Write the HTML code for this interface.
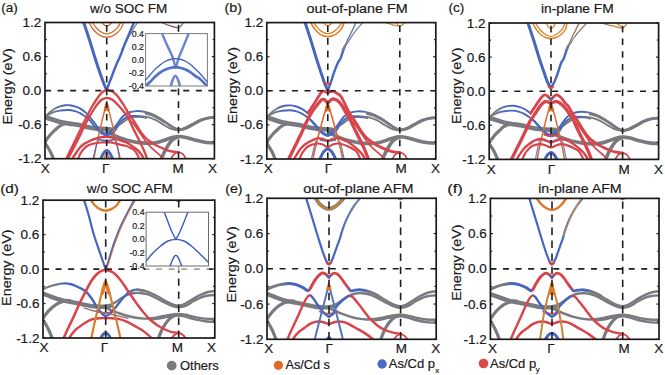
<!DOCTYPE html>
<html><head><meta charset="utf-8"><style>
html,body{margin:0;padding:0;background:#fff;overflow:hidden;width:665px;height:375px;}
svg{display:block;}
text{font-family:"Liberation Sans",sans-serif;fill:#1a1a1a;stroke:#1a1a1a;stroke-width:0.2px;}
.tl{font-size:13.5px;}
.tt{font-size:13.5px;}
.yl{font-size:13.5px;}
.il{font-size:8.8px;}
.lg{font-size:12.4px;}
</style></head><body>
<svg width="665" height="375" viewBox="0 0 665 375">
<rect width="665" height="375" fill="#fff"/>
<clipPath id="cpa"><rect x="45.00" y="22.50" width="169.40" height="136.20"/></clipPath>
<defs><linearGradient id="g1" gradientUnits="userSpaceOnUse" x1="52.00" y1="0" x2="146.00" y2="0"><stop offset="0.0000" stop-color="#797a7f"/><stop offset="0.1064" stop-color="#4767bd"/><stop offset="0.8936" stop-color="#4767bd"/><stop offset="1.0000" stop-color="#797a7f"/></linearGradient><linearGradient id="g2" gradientUnits="userSpaceOnUse" x1="52.00" y1="0" x2="150.00" y2="0"><stop offset="0.0000" stop-color="#797a7f"/><stop offset="0.1020" stop-color="#4767bd"/><stop offset="0.8776" stop-color="#4767bd"/><stop offset="1.0000" stop-color="#797a7f"/></linearGradient></defs>
<g clip-path="url(#cpa)" fill="none" stroke-linecap="round" stroke-linejoin="round">
<path d="M43.00,116.30C44.17,116.72 47.70,118.02 50.00,118.80C52.30,119.58 54.63,120.37 56.80,121.00C58.97,121.63 60.87,122.17 63.00,122.60C65.13,123.03 67.10,123.23 69.60,123.60C72.10,123.97 74.93,124.18 78.00,124.80C81.07,125.42 84.83,126.67 88.00,127.30C91.17,127.93 93.88,128.28 97.00,128.60C100.12,128.92 104.53,129.10 106.70,129.20C108.87,129.30 109.45,129.20 110.00,129.20" stroke="#797a7f" stroke-width="4.6"/>
<path d="M106.70,129.40C107.58,129.30 110.45,129.20 112.00,128.80C113.55,128.40 114.50,127.88 116.00,127.00C117.50,126.12 119.17,124.77 121.00,123.50C122.83,122.23 125.17,120.48 127.00,119.40C128.83,118.32 129.88,117.47 132.00,117.00C134.12,116.53 137.37,116.47 139.70,116.60C142.03,116.73 144.95,117.60 146.00,117.80" stroke="#797a7f" stroke-width="2.2"/>
<path d="M106.70,130.20C107.25,130.67 108.62,132.05 110.00,133.00C111.38,133.95 113.17,135.02 115.00,135.90C116.83,136.78 119.00,137.58 121.00,138.30C123.00,139.02 124.67,139.60 127.00,140.20C129.33,140.80 132.50,141.45 135.00,141.90C137.50,142.35 139.50,142.68 142.00,142.90C144.50,143.12 147.33,143.32 150.00,143.20C152.67,143.08 155.33,142.78 158.00,142.20C160.67,141.62 163.67,140.47 166.00,139.70C168.33,138.93 169.92,138.13 172.00,137.60C174.08,137.07 176.17,136.53 178.50,136.50C180.83,136.47 183.25,136.82 186.00,137.40C188.75,137.98 191.83,139.20 195.00,140.00C198.17,140.80 201.50,141.73 205.00,142.20C208.50,142.67 214.17,142.70 216.00,142.80" stroke="#797a7f" stroke-width="3.6"/>
<path d="M146.00,113.40C147.00,113.67 149.67,114.07 152.00,115.00C154.33,115.93 157.33,117.47 160.00,119.00C162.67,120.53 165.67,122.67 168.00,124.20C170.33,125.73 172.25,127.27 174.00,128.20C175.75,129.13 176.83,129.70 178.50,129.80C180.17,129.90 181.75,129.65 184.00,128.80C186.25,127.95 189.33,126.10 192.00,124.70C194.67,123.30 197.33,121.52 200.00,120.40C202.67,119.28 205.33,118.50 208.00,118.00C210.67,117.50 214.67,117.50 216.00,117.40" stroke="#797a7f" stroke-width="2.6"/>
<path d="M43.00,143.50C43.67,142.75 45.67,140.58 47.00,139.00C48.33,137.42 49.65,135.50 51.00,134.00C52.35,132.50 53.60,131.37 55.10,130.00C56.60,128.63 58.30,126.83 60.00,125.80C61.70,124.77 63.63,124.17 65.30,123.80C66.97,123.43 69.22,123.63 70.00,123.60" stroke="#797a7f" stroke-width="3.2"/>
<path d="M43.00,140.50C43.67,141.42 45.75,144.08 47.00,146.00C48.25,147.92 49.33,149.67 50.50,152.00C51.67,154.33 53.42,158.67 54.00,160.00" stroke="#797a7f" stroke-width="3.2"/>
<path d="M160.50,161.00C160.92,160.00 162.08,157.00 163.00,155.00C163.92,153.00 165.00,150.83 166.00,149.00C167.00,147.17 168.00,145.45 169.00,144.00C170.00,142.55 171.00,141.27 172.00,140.30C173.00,139.33 173.92,138.78 175.00,138.20C176.08,137.62 177.92,137.03 178.50,136.80" stroke="#797a7f" stroke-width="3.6"/>
<path d="M45.70,116.30C46.42,115.88 48.45,114.58 50.00,113.80C51.55,113.02 53.33,112.13 55.00,111.60C56.67,111.07 57.85,110.87 60.00,110.60C62.15,110.33 65.40,109.90 67.90,110.00C70.40,110.10 72.98,110.67 75.00,111.20C77.02,111.73 78.05,112.13 80.00,113.20C81.95,114.27 85.03,116.37 86.70,117.60C88.37,118.83 88.78,119.28 90.00,120.60C91.22,121.92 92.60,123.85 94.00,125.50C95.40,127.15 97.07,129.15 98.40,130.50C99.73,131.85 100.62,132.72 102.00,133.60C103.38,134.48 105.20,135.80 106.70,135.80C108.20,135.80 109.58,134.50 111.00,133.60C112.42,132.70 113.70,132.25 115.20,130.40C116.70,128.55 118.22,124.63 120.00,122.50C121.78,120.37 123.90,118.68 125.90,117.60C127.90,116.52 129.57,116.20 132.00,116.00C134.43,115.80 137.83,116.20 140.50,116.40C143.17,116.60 145.42,116.57 148.00,117.20C150.58,117.83 153.33,118.90 156.00,120.20C158.67,121.50 161.50,123.57 164.00,125.00C166.50,126.43 168.58,127.92 171.00,128.80C173.42,129.68 176.17,130.23 178.50,130.30C180.83,130.37 182.58,130.05 185.00,129.20C187.42,128.35 190.33,126.60 193.00,125.20C195.67,123.80 198.33,121.95 201.00,120.80C203.67,119.65 206.50,118.82 209.00,118.30C211.50,117.78 214.83,117.80 216.00,117.70" stroke="url(#g1)" stroke-width="1.9"/>
<path d="M99.00,139.60C99.67,139.73 101.72,140.23 103.00,140.40C104.28,140.57 105.47,140.60 106.70,140.60C107.93,140.60 109.12,140.57 110.40,140.40C111.68,140.23 113.73,139.73 114.40,139.60" stroke="#4767bd" stroke-width="1.6"/>
<path d="M129.00,119.20C129.82,120.05 132.07,122.00 133.90,124.30C135.73,126.60 137.92,130.02 140.00,133.00C142.08,135.98 144.57,139.82 146.40,142.20C148.23,144.58 149.40,145.70 151.00,147.30C152.60,148.90 154.50,150.47 156.00,151.80C157.50,153.13 158.67,153.85 160.00,155.30C161.33,156.75 163.33,159.63 164.00,160.50" stroke="#d9434a" stroke-width="1.7"/>
<path d="M170.00,161.00C170.50,160.08 172.00,156.83 173.00,155.50C174.00,154.17 175.08,153.55 176.00,153.00C176.92,152.45 177.67,152.20 178.50,152.20C179.33,152.20 180.08,152.45 181.00,153.00C181.92,153.55 183.00,154.17 184.00,155.50C185.00,156.83 186.50,160.08 187.00,161.00" stroke="#d9434a" stroke-width="1.7"/>
<path d="M45.70,116.30C46.42,115.58 48.45,113.30 50.00,112.00C51.55,110.70 53.33,109.45 55.00,108.50C56.67,107.55 58.33,106.83 60.00,106.30C61.67,105.77 63.40,105.48 65.00,105.30C66.60,105.12 67.93,105.03 69.60,105.20C71.27,105.37 73.27,105.77 75.00,106.30C76.73,106.83 78.33,107.45 80.00,108.40C81.67,109.35 83.67,110.90 85.00,112.00C86.33,113.10 86.83,113.70 88.00,115.00C89.17,116.30 90.83,118.38 92.00,119.80C93.17,121.22 93.93,122.08 95.00,123.50C96.07,124.92 97.23,126.92 98.40,128.30C99.57,129.68 100.62,130.82 102.00,131.80C103.38,132.78 105.37,134.07 106.70,134.20C108.03,134.33 108.95,133.42 110.00,132.60C111.05,131.78 111.83,130.73 113.00,129.30C114.17,127.87 115.38,126.13 117.00,124.00C118.62,121.87 120.70,118.42 122.70,116.50C124.70,114.58 126.70,113.40 129.00,112.50C131.30,111.60 134.00,111.23 136.50,111.10C139.00,110.97 141.42,111.22 144.00,111.70C146.58,112.18 149.33,112.92 152.00,114.00C154.67,115.08 157.33,116.60 160.00,118.20C162.67,119.80 165.67,122.03 168.00,123.60C170.33,125.17 172.25,126.67 174.00,127.60C175.75,128.53 176.83,129.10 178.50,129.20C180.17,129.30 181.75,129.03 184.00,128.20C186.25,127.37 189.33,125.57 192.00,124.20C194.67,122.83 197.33,121.10 200.00,120.00C202.67,118.90 205.33,118.10 208.00,117.60C210.67,117.10 214.67,117.10 216.00,117.00" stroke="url(#g2)" stroke-width="1.9"/>
<path d="M88.30,20.00C88.45,20.42 88.50,21.08 89.20,22.50C89.90,23.92 91.12,26.62 92.50,28.50C93.88,30.38 95.87,32.48 97.50,33.80C99.13,35.12 100.75,35.83 102.30,36.40C103.85,36.97 105.30,37.20 106.80,37.20C108.30,37.20 109.75,36.97 111.30,36.40C112.85,35.83 114.48,35.12 116.10,33.80C117.72,32.48 119.75,30.38 121.00,28.50C122.25,26.62 123.02,23.92 123.60,22.50C124.18,21.08 124.35,20.42 124.50,20.00" stroke="#d8692e" stroke-width="1.3"/>
<path d="M91.80,20.00C91.93,20.42 91.93,21.30 92.60,22.50C93.27,23.70 94.57,25.75 95.80,27.20C97.03,28.65 98.63,30.18 100.00,31.20C101.37,32.22 102.87,32.85 104.00,33.30C105.13,33.75 105.87,33.90 106.80,33.90C107.73,33.90 108.47,33.75 109.60,33.30C110.73,32.85 112.23,32.22 113.60,31.20C114.97,30.18 116.65,28.65 117.80,27.20C118.95,25.75 119.92,23.70 120.50,22.50C121.08,21.30 121.17,20.42 121.30,20.00" stroke="#d8692e" stroke-width="1.3"/>
<path d="M101.50,21.00C101.58,21.22 101.55,21.63 102.00,22.30C102.45,22.97 103.40,24.42 104.20,25.00C105.00,25.58 105.93,25.80 106.80,25.80C107.67,25.80 108.60,25.58 109.40,25.00C110.20,24.42 111.17,22.97 111.60,22.30C112.03,21.63 111.93,21.22 112.00,21.00" stroke="#d8692e" stroke-width="1.3"/>
<path d="M159.00,20.00C159.33,20.33 159.83,21.28 161.00,22.00C162.17,22.72 164.33,23.63 166.00,24.30C167.67,24.97 169.50,25.50 171.00,26.00C172.50,26.50 173.78,27.03 175.00,27.30C176.22,27.57 177.38,27.73 178.30,27.60C179.22,27.47 179.80,27.10 180.50,26.50C181.20,25.90 182.00,24.92 182.50,24.00C183.00,23.08 183.33,21.50 183.50,21.00" stroke="#8f7060" stroke-width="1.4"/>
<path d="M121.50,50.00C122.25,48.67 124.42,44.83 126.00,42.00C127.58,39.17 129.08,36.25 131.00,33.00C132.92,29.75 136.17,24.67 137.50,22.50C138.83,20.33 138.75,20.42 139.00,20.00" stroke="#6d7fae" stroke-width="1.2"/>
<path d="M93.60,161.00C93.95,158.97 94.97,152.63 95.70,148.80C96.43,144.97 97.30,141.13 98.00,138.00C98.70,134.87 99.15,133.17 99.90,130.00C100.65,126.83 101.68,122.33 102.50,119.00C103.32,115.67 104.10,112.67 104.80,110.00C105.50,107.33 106.38,104.17 106.70,103.00" stroke="#d8692e" stroke-width="1.4"/>
<path d="M106.70,103.00C107.02,104.17 107.88,107.33 108.60,110.00C109.32,112.67 110.17,115.67 111.00,119.00C111.83,122.33 112.82,126.67 113.60,130.00C114.38,133.33 115.00,135.87 115.70,139.00C116.40,142.13 117.12,145.13 117.80,148.80C118.48,152.47 119.47,158.97 119.80,161.00" stroke="#d8692e" stroke-width="1.4"/>
<path d="M105.20,110.00C105.45,109.00 106.20,104.00 106.70,104.00C107.20,104.00 107.95,109.00 108.20,110.00" stroke="#d8692e" stroke-width="3.0"/>
<path d="M92.60,161.00C92.88,159.67 93.65,155.67 94.30,153.00C94.95,150.33 95.75,147.27 96.50,145.00C97.25,142.73 98.42,140.33 98.80,139.40" stroke="#4767bd" stroke-width="1.0"/>
<path d="M114.60,139.40C114.98,140.33 116.15,142.73 116.90,145.00C117.65,147.27 118.45,150.33 119.10,153.00C119.75,155.67 120.52,159.67 120.80,161.00" stroke="#4767bd" stroke-width="1.0"/>
<path d="M71.00,161.00C71.83,159.67 74.50,155.25 76.00,153.00C77.50,150.75 78.67,149.00 80.00,147.50C81.33,146.00 82.67,144.95 84.00,144.00C85.33,143.05 86.67,142.50 88.00,141.80C89.33,141.10 90.58,140.38 92.00,139.80C93.42,139.22 95.00,138.72 96.50,138.30C98.00,137.88 99.30,137.53 101.00,137.30C102.70,137.07 105.03,136.90 106.70,136.90C108.37,136.90 109.62,137.02 111.00,137.30C112.38,137.58 113.50,138.12 115.00,138.60C116.50,139.08 118.00,139.52 120.00,140.20C122.00,140.88 125.00,141.73 127.00,142.70C129.00,143.67 130.28,144.78 132.00,146.00C133.72,147.22 135.80,148.67 137.30,150.00C138.80,151.33 139.72,152.17 141.00,154.00C142.28,155.83 144.33,159.83 145.00,161.00" stroke="#d9434a" stroke-width="2.4"/>
<path d="M77.00,161.00C77.67,159.58 79.67,154.73 81.00,152.50C82.33,150.27 83.83,148.78 85.00,147.60C86.17,146.42 86.83,146.00 88.00,145.40C89.17,144.80 90.58,144.40 92.00,144.00C93.42,143.60 95.00,143.25 96.50,143.00C98.00,142.75 99.30,142.62 101.00,142.50C102.70,142.38 105.03,142.32 106.70,142.30C108.37,142.28 109.62,142.22 111.00,142.40C112.38,142.58 113.50,143.03 115.00,143.40C116.50,143.77 118.00,144.13 120.00,144.60C122.00,145.07 125.33,145.67 127.00,146.20C128.67,146.73 128.85,147.17 130.00,147.80C131.15,148.43 132.73,148.97 133.90,150.00C135.07,151.03 135.98,152.17 137.00,154.00C138.02,155.83 139.50,159.83 140.00,161.00" stroke="#d9434a" stroke-width="2.2"/>
<path d="M99.30,162.00C99.55,161.50 100.18,160.33 100.80,159.00C101.42,157.67 102.02,155.40 103.00,154.00C103.98,152.60 105.47,150.60 106.70,150.60C107.93,150.60 109.42,152.60 110.40,154.00C111.38,155.40 111.98,157.67 112.60,159.00C113.22,160.33 113.85,161.50 114.10,162.00" stroke="#4767bd" stroke-width="3.0"/>
<path d="M103.00,162.00C103.28,161.08 104.08,157.97 104.70,156.50C105.32,155.03 106.03,153.20 106.70,153.20C107.37,153.20 108.08,155.03 108.70,156.50C109.32,157.97 110.12,161.08 110.40,162.00" stroke="#d8692e" stroke-width="1.3"/>
<path d="M82.50,19.50C82.70,20.00 82.53,19.08 83.70,22.50C84.87,25.92 87.58,34.00 89.50,40.00C91.42,46.00 93.45,53.00 95.20,58.50C96.95,64.00 98.53,68.75 100.00,73.00C101.47,77.25 102.88,81.17 104.00,84.00C105.12,86.83 106.25,89.00 106.70,90.00" stroke="#4767bd" stroke-width="3.0"/>
<path d="M106.70,90.00C107.00,89.17 107.78,86.92 108.50,85.00C109.22,83.08 110.08,80.92 111.00,78.50C111.92,76.08 113.00,73.08 114.00,70.50C115.00,67.92 116.07,65.17 117.00,63.00C117.93,60.83 118.70,59.58 119.60,57.50C120.50,55.42 121.50,52.83 122.40,50.50C123.30,48.17 124.07,45.83 125.00,43.50C125.93,41.17 127.00,38.83 128.00,36.50C129.00,34.17 130.00,31.83 131.00,29.50C132.00,27.17 133.28,24.17 134.00,22.50C134.72,20.83 135.08,20.00 135.30,19.50" stroke="#4767bd" stroke-width="2.4"/>
<path d="M65.20,161.00C66.08,159.17 68.75,153.58 70.50,150.00C72.25,146.42 73.92,143.17 75.70,139.50C77.48,135.83 79.35,131.83 81.20,128.00C83.05,124.17 85.03,120.00 86.80,116.50C88.57,113.00 90.18,109.83 91.80,107.00C93.42,104.17 95.05,101.67 96.50,99.50C97.95,97.33 99.25,95.42 100.50,94.00C101.75,92.58 102.92,91.67 104.00,91.00C105.08,90.33 106.00,90.07 107.00,90.00C108.00,89.93 108.98,90.27 110.00,90.60C111.02,90.93 111.93,91.18 113.10,92.00C114.27,92.82 115.85,94.25 117.00,95.50C118.15,96.75 118.83,97.83 120.00,99.50C121.17,101.17 122.67,103.37 124.00,105.50C125.33,107.63 126.67,110.17 128.00,112.30C129.33,114.43 130.70,116.35 132.00,118.30C133.30,120.25 134.47,121.88 135.80,124.00C137.13,126.12 138.38,128.70 140.00,131.00C141.62,133.30 143.63,135.93 145.50,137.80C147.37,139.67 149.45,140.97 151.20,142.20C152.95,143.43 154.40,144.32 156.00,145.20C157.60,146.08 159.13,146.73 160.80,147.50C162.47,148.27 164.13,149.13 166.00,149.80C167.87,150.47 169.92,151.10 172.00,151.50C174.08,151.90 177.42,152.08 178.50,152.20" stroke="#d9434a" stroke-width="2.3"/>
<path d="M67.00,161.00C67.92,159.17 70.67,153.58 72.50,150.00C74.33,146.42 76.17,143.17 78.00,139.50C79.83,135.83 81.67,131.67 83.50,128.00C85.33,124.33 87.28,120.58 89.00,117.50C90.72,114.42 92.30,111.83 93.80,109.50C95.30,107.17 96.63,105.17 98.00,103.50C99.37,101.83 100.55,100.45 102.00,99.50C103.45,98.55 105.03,97.80 106.70,97.80C108.37,97.80 109.95,98.13 112.00,99.50C114.05,100.87 116.68,103.52 119.00,106.00C121.32,108.48 124.23,112.20 125.90,114.40C127.57,116.60 127.98,117.28 129.00,119.20C130.02,121.12 130.83,123.43 132.00,125.90C133.17,128.37 134.57,131.12 136.00,134.00C137.43,136.88 139.27,140.45 140.60,143.20C141.93,145.95 142.77,147.53 144.00,150.50C145.23,153.47 147.33,159.25 148.00,161.00" stroke="#d9434a" stroke-width="2.3"/>
</g>
<line x1="45.00" y1="90.60" x2="214.40" y2="90.60" stroke="#1e1e1e" stroke-width="1.6" stroke-dasharray="6 6.57"/>
<line x1="106.70" y1="158.70" x2="106.70" y2="22.50" stroke="#1e1e1e" stroke-width="1.6" stroke-dasharray="6.6 6.1"/>
<line x1="178.50" y1="158.70" x2="178.50" y2="22.50" stroke="#1e1e1e" stroke-width="1.6" stroke-dasharray="6.6 6.1"/>
<line x1="45.00" y1="22.50" x2="47.60" y2="22.50" stroke="#222" stroke-width="1.2"/>
<line x1="214.40" y1="22.50" x2="211.80" y2="22.50" stroke="#222" stroke-width="1.2"/>
<line x1="45.00" y1="39.53" x2="46.80" y2="39.53" stroke="#222" stroke-width="1.2"/>
<line x1="214.40" y1="39.53" x2="212.60" y2="39.53" stroke="#222" stroke-width="1.2"/>
<line x1="45.00" y1="56.55" x2="47.60" y2="56.55" stroke="#222" stroke-width="1.2"/>
<line x1="214.40" y1="56.55" x2="211.80" y2="56.55" stroke="#222" stroke-width="1.2"/>
<line x1="45.00" y1="73.57" x2="46.80" y2="73.57" stroke="#222" stroke-width="1.2"/>
<line x1="214.40" y1="73.57" x2="212.60" y2="73.57" stroke="#222" stroke-width="1.2"/>
<line x1="45.00" y1="90.60" x2="47.60" y2="90.60" stroke="#222" stroke-width="1.2"/>
<line x1="214.40" y1="90.60" x2="211.80" y2="90.60" stroke="#222" stroke-width="1.2"/>
<line x1="45.00" y1="107.62" x2="46.80" y2="107.62" stroke="#222" stroke-width="1.2"/>
<line x1="214.40" y1="107.62" x2="212.60" y2="107.62" stroke="#222" stroke-width="1.2"/>
<line x1="45.00" y1="124.65" x2="47.60" y2="124.65" stroke="#222" stroke-width="1.2"/>
<line x1="214.40" y1="124.65" x2="211.80" y2="124.65" stroke="#222" stroke-width="1.2"/>
<line x1="45.00" y1="141.68" x2="46.80" y2="141.68" stroke="#222" stroke-width="1.2"/>
<line x1="214.40" y1="141.68" x2="212.60" y2="141.68" stroke="#222" stroke-width="1.2"/>
<line x1="45.00" y1="158.70" x2="47.60" y2="158.70" stroke="#222" stroke-width="1.2"/>
<line x1="214.40" y1="158.70" x2="211.80" y2="158.70" stroke="#222" stroke-width="1.2"/>
<rect x="45.00" y="22.50" width="169.40" height="136.20" fill="none" stroke="#1a1a1a" stroke-width="1.7"/>
<text x="41.40" y="27.05" text-anchor="end" class="tl">1.2</text>
<text x="41.40" y="61.10" text-anchor="end" class="tl">0.6</text>
<text x="41.40" y="95.15" text-anchor="end" class="tl">0.0</text>
<text x="41.40" y="129.20" text-anchor="end" class="tl">-0.6</text>
<text x="41.40" y="163.25" text-anchor="end" class="tl">-1.2</text>
<text x="45.20" y="172.80" text-anchor="middle" class="tl">X</text>
<text x="105.60" y="172.80" text-anchor="middle" class="tl">Γ</text>
<text x="178.00" y="172.80" text-anchor="middle" class="tl">M</text>
<text x="212.60" y="172.80" text-anchor="middle" class="tl">X</text>
<text transform="translate(12.30,86.35) rotate(-90)" text-anchor="middle" class="yl" textLength="76.5" lengthAdjust="spacingAndGlyphs">Energy (eV)</text>
<text x="89.90" y="12.90" class="tt" textLength="77.50" lengthAdjust="spacingAndGlyphs">w/o SOC FM</text>
<text x="1.20" y="12.30" class="tt" textLength="16.50" lengthAdjust="spacingAndGlyphs">(a)</text>
<clipPath id="cpb"><rect x="266.80" y="22.60" width="169.00" height="136.40"/></clipPath>
<defs><linearGradient id="g3" gradientUnits="userSpaceOnUse" x1="273.72" y1="0" x2="367.21" y2="0"><stop offset="0.0000" stop-color="#797a7f"/><stop offset="0.1058" stop-color="#4767bd"/><stop offset="0.8927" stop-color="#4767bd"/><stop offset="1.0000" stop-color="#797a7f"/></linearGradient><linearGradient id="g4" gradientUnits="userSpaceOnUse" x1="273.72" y1="0" x2="283.61" y2="0"><stop offset="0.0000" stop-color="#797a7f"/><stop offset="1.0000" stop-color="#4767bd"/></linearGradient><linearGradient id="g5" gradientUnits="userSpaceOnUse" x1="359.19" y1="0" x2="371.22" y2="0"><stop offset="0.0000" stop-color="#4767bd"/><stop offset="1.0000" stop-color="#797a7f"/></linearGradient></defs>
<g clip-path="url(#cpb)" fill="none" stroke-linecap="round" stroke-linejoin="round">
<path d="M264.82,116.54C265.98,116.96 269.47,118.26 271.74,119.04C274.02,119.83 276.32,120.61 278.47,121.24C280.61,121.88 282.49,122.41 284.60,122.85C286.70,123.28 288.65,123.48 291.12,123.85C293.59,124.22 296.39,124.43 299.43,125.05C302.46,125.67 306.18,126.92 309.31,127.55C312.44,128.19 315.13,128.54 318.21,128.86C321.29,129.17 325.65,129.36 327.80,129.46C329.95,129.56 330.56,129.46 331.11,129.46" stroke="#797a7f" stroke-width="4.6"/>
<path d="M327.80,129.66C328.69,129.56 331.56,129.46 333.11,129.06C334.67,128.66 335.62,128.14 337.13,127.25C338.63,126.37 340.30,125.02 342.14,123.75C343.98,122.48 346.32,120.73 348.16,119.64C349.99,118.56 351.05,117.71 353.17,117.24C355.29,116.77 358.55,116.70 360.89,116.84C363.23,116.97 366.16,117.84 367.21,118.04" stroke="#797a7f" stroke-width="2.2"/>
<path d="M327.80,130.46C328.35,130.93 329.72,132.31 331.11,133.26C332.50,134.21 334.28,135.28 336.12,136.17C337.96,137.05 340.13,137.85 342.14,138.57C344.15,139.29 345.82,139.87 348.16,140.47C350.50,141.07 353.67,141.72 356.18,142.18C358.69,142.63 360.69,142.96 363.20,143.18C365.71,143.39 368.55,143.59 371.22,143.48C373.89,143.36 376.57,143.06 379.24,142.48C381.92,141.89 384.93,140.74 387.27,139.97C389.61,139.20 391.19,138.40 393.28,137.87C395.37,137.33 397.46,136.80 399.80,136.77C402.14,136.73 404.56,137.08 407.32,137.67C410.08,138.25 413.17,139.47 416.35,140.27C419.52,141.07 422.86,142.01 426.37,142.48C429.88,142.94 435.57,142.98 437.40,143.08" stroke="#797a7f" stroke-width="3.6"/>
<path d="M367.21,113.63C368.21,113.90 370.89,114.30 373.23,115.24C375.57,116.17 378.57,117.71 381.25,119.24C383.92,120.78 386.93,122.91 389.27,124.45C391.61,125.98 393.53,127.52 395.29,128.46C397.04,129.39 398.13,129.96 399.80,130.06C401.47,130.16 403.06,129.91 405.32,129.06C407.57,128.20 410.66,126.35 413.34,124.95C416.01,123.55 418.69,121.76 421.36,120.64C424.03,119.53 426.71,118.74 429.38,118.24C432.06,117.74 436.07,117.74 437.40,117.64" stroke="#797a7f" stroke-width="2.6"/>
<path d="M264.82,143.78C265.48,143.03 267.46,140.86 268.78,139.27C270.10,137.69 271.40,135.77 272.73,134.26C274.07,132.76 275.30,131.63 276.79,130.26C278.27,128.89 279.95,127.09 281.63,126.05C283.31,125.02 285.22,124.42 286.87,124.05C288.52,123.68 290.74,123.88 291.52,123.85" stroke="#797a7f" stroke-width="3.2"/>
<path d="M264.82,140.77C265.48,141.69 267.54,144.36 268.78,146.28C270.01,148.20 271.08,149.95 272.24,152.29C273.39,154.63 275.12,158.97 275.70,160.30" stroke="#797a7f" stroke-width="3.2"/>
<path d="M381.75,161.30C382.17,160.30 383.34,157.30 384.26,155.29C385.18,153.29 386.26,151.12 387.27,149.29C388.27,147.45 389.27,145.73 390.27,144.28C391.28,142.83 392.28,141.54 393.28,140.57C394.28,139.60 395.20,139.05 396.29,138.47C397.38,137.89 399.22,137.30 399.80,137.07" stroke="#797a7f" stroke-width="3.6"/>
<path d="M267.49,116.54C268.20,116.12 270.21,114.82 271.74,114.03C273.28,113.25 275.04,112.36 276.69,111.83C278.33,111.30 279.50,111.10 281.63,110.83C283.76,110.56 286.97,110.13 289.44,110.23C291.91,110.33 294.47,110.90 296.46,111.43C298.45,111.96 299.48,112.36 301.40,113.43C303.33,114.50 306.38,116.60 308.03,117.84C309.67,119.07 310.09,119.53 311.29,120.84C312.49,122.16 313.86,124.10 315.24,125.75C316.63,127.40 318.28,129.41 319.59,130.76C320.91,132.11 321.79,132.98 323.15,133.86C324.52,134.75 326.31,136.07 327.80,136.07C329.29,136.07 330.69,134.76 332.11,133.86C333.53,132.96 334.82,132.51 336.32,130.66C337.83,128.81 339.35,124.88 341.14,122.75C342.93,120.61 345.05,118.92 347.05,117.84C349.06,116.75 350.73,116.44 353.17,116.24C355.61,116.04 359.02,116.44 361.69,116.64C364.37,116.84 366.62,116.80 369.22,117.44C371.81,118.07 374.56,119.14 377.24,120.44C379.91,121.75 382.75,123.82 385.26,125.25C387.77,126.69 389.86,128.17 392.28,129.06C394.70,129.94 397.46,130.49 399.80,130.56C402.14,130.63 403.89,130.31 406.32,129.46C408.74,128.61 411.67,126.85 414.34,125.45C417.01,124.05 419.69,122.20 422.36,121.04C425.04,119.89 427.88,119.06 430.38,118.54C432.89,118.02 436.23,118.04 437.40,117.94" stroke="url(#g3)" stroke-width="1.9"/>
<path d="M320.19,139.87C320.85,140.01 322.87,140.51 324.14,140.67C325.41,140.84 326.57,140.87 327.80,140.87C329.03,140.87 330.22,140.84 331.51,140.67C332.80,140.51 334.85,140.01 335.52,139.87" stroke="#4767bd" stroke-width="1.6"/>
<path d="M350.16,119.44C350.98,120.29 353.24,122.25 355.08,124.55C356.91,126.85 359.10,130.27 361.19,133.26C363.28,136.25 365.77,140.09 367.61,142.48C369.45,144.86 370.62,145.98 372.22,147.58C373.83,149.19 375.73,150.75 377.24,152.09C378.74,153.43 379.91,154.14 381.25,155.60C382.59,157.05 384.59,159.93 385.26,160.80" stroke="#d9434a" stroke-width="1.7"/>
<path d="M391.28,161.30C391.78,160.39 393.28,157.13 394.28,155.80C395.29,154.46 396.37,153.84 397.29,153.29C398.21,152.74 398.96,152.49 399.80,152.49C400.64,152.49 401.39,152.74 402.31,153.29C403.23,153.84 404.31,154.46 405.32,155.80C406.32,157.13 407.82,160.39 408.32,161.30" stroke="#d9434a" stroke-width="1.7"/>
<path d="M267.49,116.54C268.20,115.82 270.21,113.53 271.74,112.23C273.28,110.93 275.04,109.68 276.69,108.73C278.33,107.77 279.98,107.06 281.63,106.52C283.28,105.99 284.99,105.71 286.57,105.52C288.15,105.34 289.47,105.25 291.12,105.42C292.77,105.59 294.75,105.99 296.46,106.52C298.17,107.06 299.92,107.84 301.40,108.63C302.89,109.41 304.29,110.50 305.36,111.23C306.43,111.96 307.42,112.73 307.83,113.03" stroke="url(#g4)" stroke-width="1.9"/>
<path d="M308.13,117.74C308.65,118.21 309.94,119.21 311.29,120.54C312.64,121.88 314.85,124.25 316.23,125.75C317.62,127.25 318.44,128.39 319.59,129.56C320.75,130.73 321.79,131.94 323.15,132.76C324.52,133.58 326.47,134.45 327.80,134.46C329.13,134.48 330.06,133.68 331.11,132.86C332.16,132.04 332.95,130.99 334.12,129.56C335.29,128.12 336.51,126.39 338.13,124.25C339.75,122.11 341.84,118.66 343.84,116.74C345.85,114.82 347.86,113.63 350.16,112.73C352.47,111.83 355.18,111.46 357.68,111.33C360.19,111.20 362.61,111.45 365.20,111.93C367.79,112.42 370.55,113.15 373.23,114.23C375.90,115.32 378.57,116.84 381.25,118.44C383.92,120.04 386.93,122.28 389.27,123.85C391.61,125.42 393.53,126.92 395.29,127.85C397.04,128.79 398.13,129.36 399.80,129.46C401.47,129.56 403.06,129.29 405.32,128.46C407.57,127.62 410.66,125.82 413.34,124.45C416.01,123.08 418.69,121.34 421.36,120.24C424.03,119.14 426.71,118.34 429.38,117.84C432.06,117.34 436.07,117.34 437.40,117.24" stroke="url(#g5)" stroke-width="1.9"/>
<path d="M309.81,20.10C309.99,20.51 310.15,21.18 310.89,22.60C311.64,24.02 312.87,26.77 314.26,28.61C315.64,30.44 317.63,32.40 319.20,33.62C320.76,34.83 322.21,35.42 323.65,35.92C325.08,36.42 326.41,36.62 327.80,36.62C329.19,36.62 330.56,36.42 332.01,35.92C333.47,35.42 334.94,34.83 336.52,33.62C338.11,32.40 340.27,30.44 341.54,28.61C342.81,26.77 343.54,24.02 344.15,22.60C344.75,21.18 344.98,20.51 345.15,20.10" stroke="#e0842a" stroke-width="1.7"/>
<path d="M312.87,20.10C313.04,20.51 313.17,21.43 313.86,22.60C314.55,23.77 315.80,25.69 317.02,27.11C318.24,28.53 319.82,30.11 321.18,31.11C322.53,32.11 324.03,32.68 325.13,33.12C326.23,33.55 326.90,33.72 327.80,33.72C328.70,33.72 329.39,33.55 330.51,33.12C331.63,32.68 333.15,32.11 334.52,31.11C335.89,30.11 337.53,28.53 338.73,27.11C339.93,25.69 341.07,23.77 341.74,22.60C342.41,21.43 342.57,20.51 342.74,20.10" stroke="#e0842a" stroke-width="1.3"/>
<path d="M322.96,21.10C323.04,21.31 323.02,21.78 323.45,22.40C323.88,23.02 324.80,24.27 325.53,24.80C326.25,25.34 327.04,25.60 327.80,25.60C328.56,25.60 329.37,25.34 330.11,24.80C330.84,24.27 331.78,23.02 332.21,22.40C332.65,21.78 332.63,21.31 332.71,21.10" stroke="#e0842a" stroke-width="1.3"/>
<path d="M383.25,20.10C383.74,20.51 384.83,21.90 386.16,22.60C387.50,23.30 389.59,23.79 391.28,24.30C392.96,24.82 394.85,25.40 396.29,25.70C397.73,26.00 398.90,26.21 399.90,26.11C400.90,26.00 401.54,25.69 402.31,25.10C403.08,24.52 404.01,23.43 404.51,22.60C405.01,21.77 405.18,20.51 405.32,20.10" stroke="#d08a3a" stroke-width="1.3"/>
<path d="M393.28,21.10C393.68,21.35 394.85,21.93 395.69,22.60C396.52,23.27 397.59,24.52 398.30,25.10C399.00,25.69 399.63,25.94 399.90,26.11" stroke="#d08a3a" stroke-width="1.1"/>
<path d="M342.14,50.14C342.64,49.39 344.31,46.74 345.15,45.63C345.98,44.53 346.15,44.95 347.15,43.53C348.16,42.11 349.66,39.36 351.16,37.12C352.67,34.88 354.26,32.53 356.18,30.11C358.10,27.69 361.36,24.27 362.70,22.60C364.03,20.93 363.95,20.51 364.20,20.10" stroke="#6d7fae" stroke-width="1.2"/>
<path d="M312.28,162.30C312.69,160.30 313.84,154.29 314.75,150.29C315.66,146.28 316.73,142.11 317.72,138.27C318.70,134.43 319.69,130.93 320.68,127.25C321.67,123.58 322.48,120.24 323.65,116.24C324.82,112.23 327.03,105.39 327.70,103.22" stroke="#d8692e" stroke-width="1.6"/>
<path d="M327.70,103.22C328.39,105.39 330.62,112.23 331.81,116.24C333.00,120.24 333.82,123.58 334.82,127.25C335.82,130.93 336.83,134.43 337.83,138.27C338.83,142.11 339.92,146.28 340.84,150.29C341.76,154.29 342.93,160.30 343.34,162.30" stroke="#d8692e" stroke-width="1.6"/>
<path d="M310.80,162.30C311.21,160.30 312.44,153.79 313.27,150.29C314.09,146.78 315.33,142.78 315.74,141.27" stroke="#4767bd" stroke-width="1.0"/>
<path d="M339.83,141.27C340.25,142.78 341.50,146.78 342.34,150.29C343.18,153.79 344.43,160.30 344.85,162.30" stroke="#4767bd" stroke-width="1.0"/>
<path d="M326.22,110.23C326.47,109.23 327.20,104.22 327.70,104.22C328.20,104.22 328.95,109.23 329.20,110.23" stroke="#d8692e" stroke-width="3.0"/>
<path d="M292.51,161.30C293.33,159.97 295.97,155.54 297.45,153.29C298.93,151.04 300.08,149.29 301.40,147.78C302.72,146.28 304.04,145.28 305.36,144.28C306.68,143.28 307.99,142.51 309.31,141.77C310.63,141.04 311.82,140.47 313.27,139.87C314.72,139.27 316.45,138.34 318.01,138.17C319.58,138.00 321.04,138.44 322.66,138.87C324.27,139.30 326.01,140.77 327.70,140.77C329.39,140.77 331.18,139.30 332.81,138.87C334.45,138.44 335.97,138.10 337.53,138.17C339.08,138.24 340.37,138.62 342.14,139.27C343.91,139.92 346.32,140.99 348.16,142.08C349.99,143.16 351.45,144.41 353.17,145.78C354.89,147.15 356.98,148.87 358.49,150.29C359.99,151.71 360.91,152.46 362.20,154.29C363.48,156.13 365.54,160.13 366.21,161.30" stroke="#d9434a" stroke-width="2.4"/>
<path d="M298.44,161.30C299.10,159.88 301.07,155.03 302.39,152.79C303.71,150.55 305.19,149.07 306.35,147.88C307.50,146.70 308.16,146.28 309.31,145.68C310.47,145.08 311.82,144.65 313.27,144.28C314.72,143.91 316.45,143.44 318.01,143.48C319.58,143.51 321.04,143.88 322.66,144.48C324.27,145.08 326.01,147.08 327.70,147.08C329.39,147.08 331.18,145.08 332.81,144.48C334.45,143.88 335.97,143.51 337.53,143.48C339.08,143.44 340.37,143.78 342.14,144.28C343.91,144.78 346.65,145.85 348.16,146.48C349.66,147.12 350.01,147.45 351.16,148.08C352.32,148.72 353.91,149.25 355.08,150.29C356.25,151.32 357.16,152.46 358.18,154.29C359.20,156.13 360.69,160.13 361.19,161.30" stroke="#d9434a" stroke-width="2.2"/>
<path d="M318.70,162.30C319.03,161.47 319.86,159.05 320.68,157.30C321.51,155.54 322.48,153.19 323.65,151.79C324.82,150.39 326.34,148.89 327.70,148.89C329.06,148.89 330.62,150.39 331.81,151.79C333.00,153.19 333.98,155.54 334.82,157.30C335.66,159.05 336.49,161.47 336.83,162.30" stroke="#4767bd" stroke-width="3.0"/>
<path d="M303.87,19.60C304.07,20.10 303.91,19.18 305.06,22.60C306.21,26.02 308.90,34.12 310.80,40.13C312.69,46.13 314.70,53.14 316.43,58.65C318.16,64.16 319.81,69.08 321.18,73.17C322.54,77.26 323.53,80.27 324.64,83.19C325.74,86.11 327.27,89.45 327.80,90.70" stroke="#4767bd" stroke-width="3.0"/>
<path d="M327.80,90.70C328.27,89.45 329.55,86.28 330.61,83.19C331.66,80.10 332.86,75.68 334.12,72.17C335.37,68.67 337.08,64.41 338.13,62.16C339.18,59.90 339.57,60.66 340.44,58.65C341.30,56.65 342.56,52.31 343.34,50.14C344.13,47.97 344.85,46.38 345.15,45.63" stroke="#4767bd" stroke-width="2.4"/>
<path d="M343.34,50.14C343.64,49.39 344.35,47.55 345.15,45.63C345.95,43.71 346.99,41.13 348.16,38.62C349.33,36.12 350.88,33.28 352.17,30.61C353.45,27.94 355.04,24.35 355.88,22.60C356.71,20.85 356.96,20.51 357.18,20.10" stroke="#7d7f9a" stroke-width="1.5"/>
<path d="M325.43,82.69C325.82,82.99 327.00,84.49 327.80,84.49C328.60,84.49 329.81,82.99 330.21,82.69" stroke="#d9434a" stroke-width="1.8"/>
<path d="M307.83,113.03C308.32,112.31 309.81,110.20 310.80,108.73C311.78,107.26 312.76,105.81 313.76,104.22C314.77,102.63 315.84,100.80 316.83,99.21C317.81,97.63 318.80,95.99 319.69,94.71C320.58,93.42 321.34,92.05 322.16,91.50C322.99,90.95 323.70,91.18 324.64,91.40C325.58,91.62 326.74,92.80 327.80,92.80C328.86,92.80 330.04,91.62 331.01,91.40C331.98,91.18 332.60,91.17 333.62,91.50C334.64,91.83 335.84,92.49 337.13,93.40C338.41,94.32 339.33,93.82 341.34,97.01C343.34,100.20 347.19,108.94 349.16,112.53C351.13,116.12 351.87,116.59 353.17,118.54C354.47,120.49 355.64,122.13 356.98,124.25C358.32,126.37 359.57,128.96 361.19,131.26C362.81,133.56 364.84,136.20 366.71,138.07C368.58,139.94 370.67,141.24 372.42,142.48C374.18,143.71 375.63,144.60 377.24,145.48C378.84,146.36 380.38,147.02 382.05,147.78C383.72,148.55 385.39,149.42 387.27,150.09C389.14,150.75 391.19,151.39 393.28,151.79C395.37,152.19 398.71,152.37 399.80,152.49" stroke="#d9434a" stroke-width="2.8"/>
<path d="M287.56,161.30C288.47,159.47 291.22,153.88 293.00,150.29C294.78,146.70 296.46,143.44 298.24,139.77C300.02,136.10 302.24,131.34 303.68,128.25C305.11,125.17 305.93,123.16 306.84,121.24C307.75,119.33 308.29,118.24 309.11,116.74C309.94,115.24 310.84,113.68 311.78,112.23C312.72,110.78 313.76,109.36 314.75,108.03C315.74,106.69 316.84,105.30 317.72,104.22C318.59,103.13 319.26,102.30 319.99,101.52C320.71,100.73 321.29,99.80 322.07,99.51C322.84,99.23 323.68,99.28 324.64,99.81C325.59,100.35 326.74,102.72 327.80,102.72C328.86,102.72 329.96,100.43 331.01,99.81C332.06,99.20 332.93,98.81 334.12,99.01C335.30,99.21 336.74,99.81 338.13,101.01C339.52,102.22 340.95,103.95 342.44,106.22C343.93,108.49 345.77,112.43 347.05,114.63C348.34,116.84 349.14,117.52 350.16,119.44C351.18,121.36 352.00,123.68 353.17,126.15C354.34,128.62 355.74,131.38 357.18,134.26C358.62,137.15 360.46,140.72 361.79,143.48C363.13,146.23 363.97,147.82 365.20,150.79C366.44,153.76 368.55,159.55 369.22,161.30" stroke="#d9434a" stroke-width="3.3"/>
</g>
<line x1="266.80" y1="90.80" x2="435.80" y2="90.80" stroke="#1e1e1e" stroke-width="1.6" stroke-dasharray="6 6.57"/>
<line x1="327.80" y1="159.00" x2="327.80" y2="22.60" stroke="#1e1e1e" stroke-width="1.6" stroke-dasharray="6.6 6.1"/>
<line x1="399.80" y1="159.00" x2="399.80" y2="22.60" stroke="#1e1e1e" stroke-width="1.6" stroke-dasharray="6.6 6.1"/>
<line x1="266.80" y1="22.60" x2="269.40" y2="22.60" stroke="#222" stroke-width="1.2"/>
<line x1="435.80" y1="22.60" x2="433.20" y2="22.60" stroke="#222" stroke-width="1.2"/>
<line x1="266.80" y1="39.65" x2="268.60" y2="39.65" stroke="#222" stroke-width="1.2"/>
<line x1="435.80" y1="39.65" x2="434.00" y2="39.65" stroke="#222" stroke-width="1.2"/>
<line x1="266.80" y1="56.70" x2="269.40" y2="56.70" stroke="#222" stroke-width="1.2"/>
<line x1="435.80" y1="56.70" x2="433.20" y2="56.70" stroke="#222" stroke-width="1.2"/>
<line x1="266.80" y1="73.75" x2="268.60" y2="73.75" stroke="#222" stroke-width="1.2"/>
<line x1="435.80" y1="73.75" x2="434.00" y2="73.75" stroke="#222" stroke-width="1.2"/>
<line x1="266.80" y1="90.80" x2="269.40" y2="90.80" stroke="#222" stroke-width="1.2"/>
<line x1="435.80" y1="90.80" x2="433.20" y2="90.80" stroke="#222" stroke-width="1.2"/>
<line x1="266.80" y1="107.85" x2="268.60" y2="107.85" stroke="#222" stroke-width="1.2"/>
<line x1="435.80" y1="107.85" x2="434.00" y2="107.85" stroke="#222" stroke-width="1.2"/>
<line x1="266.80" y1="124.90" x2="269.40" y2="124.90" stroke="#222" stroke-width="1.2"/>
<line x1="435.80" y1="124.90" x2="433.20" y2="124.90" stroke="#222" stroke-width="1.2"/>
<line x1="266.80" y1="141.95" x2="268.60" y2="141.95" stroke="#222" stroke-width="1.2"/>
<line x1="435.80" y1="141.95" x2="434.00" y2="141.95" stroke="#222" stroke-width="1.2"/>
<line x1="266.80" y1="159.00" x2="269.40" y2="159.00" stroke="#222" stroke-width="1.2"/>
<line x1="435.80" y1="159.00" x2="433.20" y2="159.00" stroke="#222" stroke-width="1.2"/>
<rect x="266.80" y="22.60" width="169.00" height="136.40" fill="none" stroke="#1a1a1a" stroke-width="1.7"/>
<text x="263.20" y="27.15" text-anchor="end" class="tl">1.2</text>
<text x="263.20" y="61.25" text-anchor="end" class="tl">0.6</text>
<text x="263.20" y="95.35" text-anchor="end" class="tl">0.0</text>
<text x="263.20" y="129.45" text-anchor="end" class="tl">-0.6</text>
<text x="263.20" y="163.55" text-anchor="end" class="tl">-1.2</text>
<text x="268.20" y="173.10" text-anchor="middle" class="tl">X</text>
<text x="328.50" y="173.10" text-anchor="middle" class="tl">Γ</text>
<text x="401.00" y="173.10" text-anchor="middle" class="tl">M</text>
<text x="435.60" y="173.10" text-anchor="middle" class="tl">X</text>
<text transform="translate(236.60,85.30) rotate(-90)" text-anchor="middle" class="yl" textLength="76.5" lengthAdjust="spacingAndGlyphs">Energy (eV)</text>
<text x="306.50" y="12.90" class="tt" textLength="101.20" lengthAdjust="spacingAndGlyphs">out-of-plane FM</text>
<text x="224.50" y="12.30" class="tt" textLength="17.40" lengthAdjust="spacingAndGlyphs">(b)</text>
<clipPath id="cpc"><rect x="489.20" y="23.00" width="169.40" height="136.40"/></clipPath>
<defs><linearGradient id="g6" gradientUnits="userSpaceOnUse" x1="496.21" y1="0" x2="590.19" y2="0"><stop offset="0.0000" stop-color="#797a7f"/><stop offset="0.1066" stop-color="#4767bd"/><stop offset="0.8939" stop-color="#4767bd"/><stop offset="1.0000" stop-color="#797a7f"/></linearGradient><linearGradient id="g7" gradientUnits="userSpaceOnUse" x1="496.21" y1="0" x2="506.23" y2="0"><stop offset="0.0000" stop-color="#797a7f"/><stop offset="1.0000" stop-color="#4767bd"/></linearGradient><linearGradient id="g8" gradientUnits="userSpaceOnUse" x1="582.21" y1="0" x2="594.18" y2="0"><stop offset="0.0000" stop-color="#4767bd"/><stop offset="1.0000" stop-color="#797a7f"/></linearGradient></defs>
<g clip-path="url(#cpc)" fill="none" stroke-linecap="round" stroke-linejoin="round">
<path d="M487.20,116.94C488.37,117.36 491.90,118.66 494.21,119.44C496.51,120.23 498.85,121.01 501.02,121.64C503.19,122.28 505.09,122.81 507.23,123.25C509.37,123.68 511.34,123.88 513.84,124.25C516.34,124.62 519.18,124.83 522.25,125.45C525.33,126.07 529.10,127.32 532.27,127.95C535.44,128.59 538.16,128.94 541.28,129.26C544.41,129.57 548.83,129.76 551.00,129.86C553.17,129.96 553.74,129.86 554.29,129.86" stroke="#797a7f" stroke-width="4.6"/>
<path d="M551.00,130.06C551.88,129.96 554.74,129.86 556.29,129.46C557.83,129.06 558.78,128.54 560.27,127.65C561.77,126.77 563.43,125.42 565.26,124.15C567.09,122.88 569.42,121.13 571.24,120.04C573.07,118.96 574.12,118.11 576.23,117.64C578.34,117.17 581.58,117.10 583.91,117.24C586.23,117.37 589.14,118.24 590.19,118.44" stroke="#797a7f" stroke-width="2.2"/>
<path d="M551.00,130.86C551.55,131.33 552.91,132.71 554.29,133.66C555.67,134.61 557.45,135.68 559.28,136.57C561.11,137.45 563.27,138.25 565.26,138.97C567.25,139.69 568.92,140.27 571.24,140.87C573.57,141.47 576.73,142.12 579.22,142.58C581.71,143.03 583.71,143.36 586.20,143.58C588.69,143.79 591.52,143.99 594.18,143.88C596.84,143.76 599.50,143.46 602.16,142.88C604.82,142.29 607.81,141.14 610.13,140.37C612.46,139.60 614.04,138.80 616.12,138.27C618.20,137.73 620.27,137.20 622.60,137.17C624.93,137.13 627.36,137.48 630.12,138.07C632.88,138.65 635.97,139.87 639.15,140.67C642.32,141.47 645.66,142.41 649.17,142.88C652.68,143.34 658.37,143.38 660.20,143.48" stroke="#797a7f" stroke-width="3.6"/>
<path d="M590.19,114.03C591.19,114.30 593.85,114.70 596.17,115.64C598.50,116.57 601.49,118.11 604.15,119.64C606.81,121.18 609.80,123.31 612.13,124.85C614.46,126.38 616.37,127.92 618.11,128.86C619.86,129.79 620.93,130.36 622.60,130.46C624.27,130.56 625.86,130.31 628.12,129.46C630.37,128.60 633.46,126.75 636.14,125.35C638.81,123.95 641.49,122.16 644.16,121.04C646.83,119.93 649.51,119.14 652.18,118.64C654.86,118.14 658.87,118.14 660.20,118.04" stroke="#797a7f" stroke-width="2.6"/>
<path d="M487.20,144.18C487.86,143.43 489.87,141.26 491.20,139.67C492.54,138.09 493.86,136.17 495.21,134.66C496.56,133.16 497.81,132.03 499.32,130.66C500.82,129.29 502.52,127.49 504.22,126.45C505.93,125.42 507.86,124.82 509.53,124.45C511.20,124.08 513.46,124.28 514.24,124.25" stroke="#797a7f" stroke-width="3.2"/>
<path d="M487.20,141.17C487.86,142.09 489.95,144.76 491.20,146.68C492.46,148.60 493.54,150.35 494.71,152.69C495.88,155.03 497.63,159.37 498.21,160.70" stroke="#797a7f" stroke-width="3.2"/>
<path d="M604.65,161.70C605.07,160.70 606.23,157.70 607.14,155.69C608.06,153.69 609.14,151.52 610.13,149.69C611.13,147.85 612.13,146.13 613.13,144.68C614.12,143.23 615.12,141.94 616.12,140.97C617.12,140.00 618.03,139.45 619.11,138.87C620.19,138.29 622.02,137.70 622.60,137.47" stroke="#797a7f" stroke-width="3.6"/>
<path d="M489.90,116.94C490.62,116.52 492.66,115.22 494.21,114.43C495.76,113.65 497.55,112.76 499.22,112.23C500.89,111.70 502.07,111.50 504.22,111.23C506.38,110.96 509.63,110.53 512.14,110.63C514.64,110.73 517.23,111.30 519.25,111.83C521.27,112.36 522.30,112.76 524.26,113.83C526.21,114.90 529.30,117.00 530.97,118.24C532.64,119.47 533.05,119.93 534.27,121.24C535.49,122.56 536.88,124.50 538.28,126.15C539.68,127.80 541.35,129.81 542.69,131.16C544.02,132.51 544.91,133.38 546.29,134.26C547.68,135.15 549.50,136.47 551.00,136.47C552.50,136.47 553.88,135.16 555.29,134.26C556.70,133.36 557.98,132.91 559.48,131.06C560.97,129.21 562.48,125.28 564.26,123.15C566.04,121.01 568.15,119.32 570.15,118.24C572.14,117.15 573.80,116.84 576.23,116.64C578.66,116.44 582.05,116.84 584.71,117.04C587.37,117.24 589.61,117.20 592.18,117.84C594.76,118.47 597.50,119.54 600.16,120.84C602.82,122.15 605.65,124.22 608.14,125.65C610.63,127.09 612.71,128.57 615.12,129.46C617.53,130.34 620.27,130.89 622.60,130.96C624.93,131.03 626.69,130.71 629.12,129.86C631.54,129.01 634.47,127.25 637.14,125.85C639.81,124.45 642.49,122.60 645.16,121.44C647.84,120.29 650.68,119.46 653.18,118.94C655.69,118.42 659.03,118.44 660.20,118.34" stroke="url(#g6)" stroke-width="1.9"/>
<path d="M543.29,140.27C543.96,140.41 546.01,140.91 547.29,141.07C548.58,141.24 549.77,141.27 551.00,141.27C552.23,141.27 553.41,141.24 554.69,141.07C555.97,140.91 558.01,140.41 558.68,140.27" stroke="#4767bd" stroke-width="1.6"/>
<path d="M573.24,119.84C574.05,120.69 576.30,122.65 578.12,124.95C579.95,127.25 582.13,130.67 584.21,133.66C586.28,136.65 588.76,140.49 590.59,142.88C592.42,145.26 593.58,146.38 595.18,147.98C596.77,149.59 598.67,151.15 600.16,152.49C601.66,153.83 602.82,154.54 604.15,156.00C605.48,157.45 607.48,160.33 608.14,161.20" stroke="#d9434a" stroke-width="1.7"/>
<path d="M614.12,161.70C614.62,160.79 616.12,157.53 617.12,156.20C618.11,154.86 619.19,154.24 620.11,153.69C621.02,153.14 621.77,152.89 622.60,152.89C623.43,152.89 624.19,153.14 625.11,153.69C626.03,154.24 627.11,154.86 628.12,156.20C629.12,157.53 630.62,160.79 631.12,161.70" stroke="#d9434a" stroke-width="1.7"/>
<path d="M489.90,116.94C490.62,116.22 492.66,113.93 494.21,112.63C495.76,111.33 497.55,110.08 499.22,109.13C500.89,108.17 502.55,107.46 504.22,106.92C505.89,106.39 507.63,106.11 509.23,105.92C510.84,105.74 512.17,105.65 513.84,105.82C515.51,105.99 517.51,106.39 519.25,106.92C520.98,107.46 522.75,108.24 524.26,109.03C525.76,109.81 527.18,110.90 528.26,111.63C529.35,112.36 530.35,113.13 530.77,113.43" stroke="url(#g7)" stroke-width="1.9"/>
<path d="M531.07,118.14C531.60,118.61 532.90,119.61 534.27,120.94C535.64,122.28 537.88,124.65 539.28,126.15C540.68,127.65 541.52,128.79 542.69,129.96C543.86,131.13 544.91,132.34 546.29,133.16C547.68,133.98 549.67,134.85 551.00,134.86C552.33,134.88 553.24,134.08 554.29,133.26C555.34,132.44 556.12,131.39 557.28,129.96C558.45,128.52 559.66,126.79 561.27,124.65C562.88,122.51 564.96,119.06 566.96,117.14C568.95,115.22 570.94,114.03 573.24,113.13C575.53,112.23 578.22,111.86 580.72,111.73C583.21,111.60 585.62,111.85 588.20,112.33C590.77,112.82 593.51,113.55 596.17,114.63C598.83,115.72 601.49,117.24 604.15,118.84C606.81,120.44 609.80,122.68 612.13,124.25C614.46,125.82 616.37,127.32 618.11,128.25C619.86,129.19 620.93,129.76 622.60,129.86C624.27,129.96 625.86,129.69 628.12,128.86C630.37,128.02 633.46,126.22 636.14,124.85C638.81,123.48 641.49,121.74 644.16,120.64C646.83,119.54 649.51,118.74 652.18,118.24C654.86,117.74 658.87,117.74 660.20,117.64" stroke="url(#g8)" stroke-width="1.9"/>
<path d="M532.27,20.50C532.34,20.91 532.00,21.50 532.67,23.00C533.34,24.50 534.84,27.51 536.28,29.51C537.71,31.51 539.61,33.65 541.28,35.02C542.95,36.39 544.69,37.14 546.29,37.72C547.89,38.31 549.37,38.52 550.90,38.52C552.43,38.52 553.89,38.31 555.49,37.72C557.08,37.14 558.81,36.39 560.47,35.02C562.14,33.65 564.38,31.51 565.46,29.51C566.54,27.51 566.62,24.50 566.96,23.00C567.29,21.50 567.37,20.91 567.45,20.50" stroke="#e0842a" stroke-width="1.5"/>
<path d="M534.77,20.50C534.91,20.91 534.86,21.66 535.58,23.00C536.29,24.34 537.71,26.79 539.08,28.51C540.45,30.23 542.34,32.11 543.79,33.32C545.24,34.52 546.61,35.20 547.79,35.72C548.98,36.24 549.87,36.42 550.90,36.42C551.93,36.42 552.81,36.24 553.99,35.72C555.17,35.20 556.53,34.52 557.98,33.32C559.43,32.11 561.47,30.23 562.67,28.51C563.86,26.79 564.61,24.34 565.16,23.00C565.71,21.66 565.83,20.91 565.96,20.50" stroke="#e0842a" stroke-width="1.3"/>
<path d="M545.69,21.50C545.77,21.71 545.72,21.87 546.19,22.80C546.66,23.73 547.71,26.14 548.50,27.11C549.28,28.07 550.10,28.61 550.90,28.61C551.70,28.61 552.50,28.07 553.29,27.11C554.09,26.14 555.20,23.73 555.69,22.80C556.17,21.87 556.10,21.71 556.19,21.50" stroke="#e0842a" stroke-width="1.3"/>
<path d="M598.17,20.50C598.70,20.91 599.70,22.28 601.36,23.00C603.02,23.72 605.85,24.22 608.14,24.80C610.43,25.39 613.13,26.02 615.12,26.51C617.12,26.99 618.86,27.46 620.11,27.71C621.35,27.96 621.77,28.29 622.60,28.01C623.43,27.72 624.35,26.84 625.11,26.00C625.86,25.17 626.61,23.75 627.11,23.00C627.61,22.25 627.95,21.75 628.12,21.50" stroke="#c8893a" stroke-width="1.3"/>
<path d="M613.13,21.50C613.59,21.75 614.92,22.42 615.92,23.00C616.92,23.58 618.00,24.17 619.11,25.00C620.22,25.84 622.02,27.51 622.60,28.01" stroke="#c8893a" stroke-width="1.1"/>
<path d="M565.26,50.54C565.76,49.79 567.42,47.14 568.25,46.03C569.08,44.93 569.25,45.35 570.25,43.93C571.24,42.51 572.66,39.76 574.24,37.52C575.81,35.28 577.63,32.93 579.72,30.51C581.81,28.09 585.30,24.67 586.80,23.00C588.30,21.33 588.38,20.91 588.69,20.50" stroke="#8c7a68" stroke-width="1.2"/>
<path d="M536.68,162.70C537.03,160.70 538.05,154.43 538.78,150.69C539.51,146.95 540.32,143.61 541.08,140.27C541.85,136.93 542.44,134.60 543.39,130.66C544.34,126.72 545.54,121.23 546.79,116.64C548.05,112.05 550.22,105.37 550.90,103.12" stroke="#d8692e" stroke-width="1.5"/>
<path d="M550.90,103.12C551.58,105.37 553.74,112.05 554.99,116.64C556.24,121.23 557.43,126.72 558.38,130.66C559.33,134.60 559.91,136.93 560.67,140.27C561.44,143.61 562.24,146.95 562.97,150.69C563.70,154.43 564.71,160.70 565.06,162.70" stroke="#d8692e" stroke-width="1.5"/>
<path d="M534.87,162.70C535.21,160.87 536.13,155.43 536.88,151.69C537.63,147.95 538.96,142.17 539.38,140.27" stroke="#4767bd" stroke-width="1.2" stroke-opacity="0.8"/>
<path d="M562.37,140.27C562.78,142.17 564.11,147.95 564.86,151.69C565.61,155.43 566.52,160.87 566.86,162.70" stroke="#4767bd" stroke-width="1.2" stroke-opacity="0.8"/>
<path d="M549.40,110.13C549.65,109.13 550.40,104.12 550.90,104.12C551.40,104.12 552.15,109.13 552.40,110.13" stroke="#d8692e" stroke-width="3.0"/>
<path d="M544.29,134.66C544.79,134.83 546.19,135.41 547.29,135.67C548.40,135.92 549.70,136.17 550.90,136.17C552.10,136.17 553.39,135.92 554.49,135.67C555.59,135.41 556.98,134.83 557.48,134.66" stroke="#d9434a" stroke-width="1.8"/>
<path d="M515.24,161.70C516.08,160.37 518.75,155.94 520.25,153.69C521.75,151.44 522.92,149.69 524.26,148.18C525.59,146.68 526.93,145.73 528.26,144.68C529.60,143.63 530.93,142.66 532.27,141.87C533.61,141.09 535.01,140.46 536.28,139.97C537.54,139.49 538.46,138.99 539.88,138.97C541.30,138.95 542.95,139.29 544.79,139.87C546.63,140.46 548.87,142.48 550.90,142.48C552.93,142.48 555.15,140.46 556.98,139.87C558.81,139.29 560.41,139.00 561.87,138.97C563.33,138.94 564.20,139.09 565.76,139.67C567.32,140.26 569.50,141.39 571.24,142.48C572.99,143.56 574.52,144.81 576.23,146.18C577.94,147.55 580.02,149.27 581.51,150.69C583.01,152.11 583.92,152.86 585.20,154.69C586.48,156.53 588.53,160.53 589.19,161.70" stroke="#d9434a" stroke-width="2.4"/>
<path d="M521.25,161.70C521.92,160.28 523.92,155.43 525.26,153.19C526.59,150.95 528.10,149.47 529.26,148.28C530.43,147.10 531.10,146.68 532.27,146.08C533.44,145.48 534.94,145.01 536.28,144.68C537.61,144.34 538.78,143.98 540.28,144.08C541.79,144.18 543.52,144.71 545.29,145.28C547.06,145.85 549.03,147.48 550.90,147.48C552.77,147.48 554.72,145.85 556.48,145.28C558.25,144.71 560.01,144.18 561.47,144.08C562.93,143.98 563.63,144.21 565.26,144.68C566.89,145.15 569.75,146.25 571.24,146.88C572.74,147.52 573.09,147.85 574.24,148.48C575.38,149.12 576.96,149.65 578.12,150.69C579.29,151.72 580.20,152.86 581.22,154.69C582.23,156.53 583.71,160.53 584.21,161.70" stroke="#d9434a" stroke-width="2.2"/>
<path d="M543.79,162.70C544.04,162.04 544.62,160.07 545.29,158.70C545.96,157.33 546.86,155.53 547.79,154.49C548.73,153.46 549.87,152.49 550.90,152.49C551.93,152.49 553.06,153.46 553.99,154.49C554.92,155.53 555.82,157.33 556.48,158.70C557.15,160.07 557.73,162.04 557.98,162.70" stroke="#4767bd" stroke-width="3.0"/>
<path d="M526.76,20.00C526.96,20.50 526.79,19.58 527.96,23.00C529.13,26.42 531.85,34.52 533.77,40.53C535.69,46.53 537.73,53.63 539.48,59.05C541.23,64.48 542.95,69.23 544.29,73.07C545.62,76.91 546.39,79.62 547.49,82.09C548.60,84.56 550.33,86.93 550.90,87.90" stroke="#4767bd" stroke-width="3.0"/>
<path d="M550.90,87.90C551.46,86.93 553.14,84.56 554.29,82.09C555.44,79.62 556.62,76.33 557.78,73.07C558.94,69.82 560.31,64.89 561.27,62.56C562.24,60.22 562.70,61.06 563.56,59.05C564.43,57.05 565.68,52.71 566.46,50.54C567.24,48.37 567.95,46.78 568.25,46.03" stroke="#4767bd" stroke-width="2.4"/>
<path d="M566.46,50.54C566.76,49.79 567.45,47.95 568.25,46.03C569.05,44.11 570.08,41.53 571.24,39.02C572.41,36.52 573.92,33.68 575.23,31.01C576.55,28.34 578.29,24.75 579.12,23.00C579.95,21.25 580.04,20.91 580.22,20.50" stroke="#8c7a68" stroke-width="1.4"/>
<path d="M548.70,86.59C549.06,86.89 550.17,88.40 550.90,88.40C551.63,88.40 552.73,86.89 553.09,86.59" stroke="#d9434a" stroke-width="2.2"/>
<path d="M530.57,113.23C531.02,112.56 532.32,110.63 533.27,109.23C534.22,107.82 535.27,106.29 536.28,104.82C537.28,103.35 538.28,101.78 539.28,100.41C540.28,99.04 541.33,97.53 542.29,96.61C543.24,95.69 544.11,94.99 544.99,94.91C545.88,94.82 546.61,95.32 547.59,96.11C548.58,96.89 550.35,99.03 550.90,99.61" stroke="#d9434a" stroke-width="2.8"/>
<path d="M550.90,99.61C551.45,99.03 553.24,96.89 554.19,96.11C555.14,95.32 555.74,94.91 556.58,94.91C557.43,94.91 558.33,95.41 559.28,96.11C560.22,96.81 561.27,97.94 562.27,99.11C563.27,100.28 564.26,101.95 565.26,103.12C566.26,104.29 567.09,104.49 568.25,106.12C569.42,107.76 570.91,110.80 572.24,112.93C573.57,115.07 574.93,116.99 576.23,118.94C577.53,120.89 578.69,122.53 580.02,124.65C581.35,126.77 582.60,129.36 584.21,131.66C585.82,133.96 587.83,136.60 589.69,138.47C591.55,140.34 593.63,141.64 595.38,142.88C597.12,144.11 598.57,145.00 600.16,145.88C601.76,146.76 603.29,147.42 604.95,148.18C606.61,148.95 608.27,149.82 610.13,150.49C612.00,151.15 614.04,151.79 616.12,152.19C618.20,152.59 621.52,152.77 622.60,152.89" stroke="#d9434a" stroke-width="2.8"/>
<path d="M549.40,98.11C549.65,98.43 550.40,100.01 550.90,100.01C551.40,100.01 552.15,98.43 552.40,98.11" stroke="#4767bd" stroke-width="1.8"/>
<path d="M510.23,161.70C511.15,159.87 513.94,154.28 515.74,150.69C517.55,147.10 519.25,143.84 521.05,140.17C522.85,136.50 525.11,131.74 526.56,128.65C528.01,125.57 528.91,123.28 529.77,121.64C530.62,120.01 530.92,119.98 531.67,118.84C532.42,117.71 533.34,116.24 534.27,114.83C535.21,113.43 536.38,111.78 537.28,110.43C538.18,109.08 538.76,107.92 539.68,106.72C540.60,105.52 541.80,104.10 542.79,103.22C543.77,102.33 544.67,101.58 545.59,101.41C546.51,101.25 547.41,101.95 548.30,102.22C549.18,102.48 550.03,103.02 550.90,103.02C551.77,103.02 552.61,102.48 553.49,102.22C554.37,101.95 554.89,101.10 556.19,101.41C557.48,101.73 559.68,102.92 561.27,104.12C562.87,105.32 564.28,106.81 565.76,108.63C567.24,110.44 568.90,113.17 570.15,115.03C571.39,116.90 572.22,117.92 573.24,119.84C574.25,121.76 575.07,124.08 576.23,126.55C577.39,129.02 578.79,131.78 580.22,134.66C581.65,137.55 583.48,141.12 584.81,143.88C586.14,146.63 586.97,148.22 588.20,151.19C589.43,154.16 591.52,159.95 592.18,161.70" stroke="#d9434a" stroke-width="3.3"/>
</g>
<line x1="489.20" y1="91.20" x2="658.60" y2="91.20" stroke="#1e1e1e" stroke-width="1.6" stroke-dasharray="6 6.57"/>
<line x1="551.00" y1="159.40" x2="551.00" y2="23.00" stroke="#1e1e1e" stroke-width="1.6" stroke-dasharray="6.6 6.1"/>
<line x1="622.60" y1="159.40" x2="622.60" y2="23.00" stroke="#1e1e1e" stroke-width="1.6" stroke-dasharray="6.6 6.1"/>
<line x1="489.20" y1="23.00" x2="491.80" y2="23.00" stroke="#222" stroke-width="1.2"/>
<line x1="658.60" y1="23.00" x2="656.00" y2="23.00" stroke="#222" stroke-width="1.2"/>
<line x1="489.20" y1="40.05" x2="491.00" y2="40.05" stroke="#222" stroke-width="1.2"/>
<line x1="658.60" y1="40.05" x2="656.80" y2="40.05" stroke="#222" stroke-width="1.2"/>
<line x1="489.20" y1="57.10" x2="491.80" y2="57.10" stroke="#222" stroke-width="1.2"/>
<line x1="658.60" y1="57.10" x2="656.00" y2="57.10" stroke="#222" stroke-width="1.2"/>
<line x1="489.20" y1="74.15" x2="491.00" y2="74.15" stroke="#222" stroke-width="1.2"/>
<line x1="658.60" y1="74.15" x2="656.80" y2="74.15" stroke="#222" stroke-width="1.2"/>
<line x1="489.20" y1="91.20" x2="491.80" y2="91.20" stroke="#222" stroke-width="1.2"/>
<line x1="658.60" y1="91.20" x2="656.00" y2="91.20" stroke="#222" stroke-width="1.2"/>
<line x1="489.20" y1="108.25" x2="491.00" y2="108.25" stroke="#222" stroke-width="1.2"/>
<line x1="658.60" y1="108.25" x2="656.80" y2="108.25" stroke="#222" stroke-width="1.2"/>
<line x1="489.20" y1="125.30" x2="491.80" y2="125.30" stroke="#222" stroke-width="1.2"/>
<line x1="658.60" y1="125.30" x2="656.00" y2="125.30" stroke="#222" stroke-width="1.2"/>
<line x1="489.20" y1="142.35" x2="491.00" y2="142.35" stroke="#222" stroke-width="1.2"/>
<line x1="658.60" y1="142.35" x2="656.80" y2="142.35" stroke="#222" stroke-width="1.2"/>
<line x1="489.20" y1="159.40" x2="491.80" y2="159.40" stroke="#222" stroke-width="1.2"/>
<line x1="658.60" y1="159.40" x2="656.00" y2="159.40" stroke="#222" stroke-width="1.2"/>
<rect x="489.20" y="23.00" width="169.40" height="136.40" fill="none" stroke="#1a1a1a" stroke-width="1.7"/>
<text x="485.60" y="27.55" text-anchor="end" class="tl">1.2</text>
<text x="485.60" y="61.65" text-anchor="end" class="tl">0.6</text>
<text x="485.60" y="95.75" text-anchor="end" class="tl">0.0</text>
<text x="485.60" y="129.85" text-anchor="end" class="tl">-0.6</text>
<text x="485.60" y="163.95" text-anchor="end" class="tl">-1.2</text>
<text x="491.20" y="173.50" text-anchor="middle" class="tl">X</text>
<text x="551.50" y="173.50" text-anchor="middle" class="tl">Γ</text>
<text x="624.00" y="173.50" text-anchor="middle" class="tl">M</text>
<text x="658.50" y="173.50" text-anchor="middle" class="tl">X</text>
<text transform="translate(460.60,85.80) rotate(-90)" text-anchor="middle" class="yl" textLength="76.5" lengthAdjust="spacingAndGlyphs">Energy (eV)</text>
<text x="540.90" y="12.90" class="tt" textLength="72.90" lengthAdjust="spacingAndGlyphs">in-plane FM</text>
<text x="448.50" y="12.30" class="tt" textLength="15.90" lengthAdjust="spacingAndGlyphs">(c)</text>
<clipPath id="cpd"><rect x="43.00" y="200.20" width="171.80" height="137.80"/></clipPath>
<defs><linearGradient id="g9" gradientUnits="userSpaceOnUse" x1="56.00" y1="0" x2="140.00" y2="0"><stop offset="0.0000" stop-color="#797a7f"/><stop offset="0.1190" stop-color="#4767bd"/><stop offset="0.8810" stop-color="#4767bd"/><stop offset="1.0000" stop-color="#797a7f"/></linearGradient></defs>
<g clip-path="url(#cpd)" fill="none" stroke-linecap="round" stroke-linejoin="round">
<path d="M41.00,293.00C42.50,293.55 46.72,295.15 50.00,296.30C53.28,297.45 57.37,298.98 60.70,299.90C64.03,300.82 66.90,301.18 70.00,301.80C73.10,302.42 75.63,302.87 79.30,303.60C82.97,304.33 88.55,305.67 92.00,306.20C95.45,306.73 97.72,306.73 100.00,306.80C102.28,306.87 104.03,306.73 105.70,306.60C107.37,306.47 109.28,306.10 110.00,306.00" stroke="#797a7f" stroke-width="4.4"/>
<path d="M105.70,306.80C106.42,306.50 108.45,305.72 110.00,305.00C111.55,304.28 113.17,303.58 115.00,302.50C116.83,301.42 119.00,299.75 121.00,298.50C123.00,297.25 125.00,295.88 127.00,295.00C129.00,294.12 130.83,293.53 133.00,293.20C135.17,292.87 137.67,292.83 140.00,293.00C142.33,293.17 144.67,293.53 147.00,294.20C149.33,294.87 151.50,295.83 154.00,297.00C156.50,298.17 159.33,299.87 162.00,301.20C164.67,302.53 167.22,304.00 170.00,305.00C172.78,306.00 176.03,307.10 178.70,307.20C181.37,307.30 183.45,306.67 186.00,305.60C188.55,304.53 191.33,302.23 194.00,300.80C196.67,299.37 199.33,297.92 202.00,297.00C204.67,296.08 207.50,295.63 210.00,295.30C212.50,294.97 215.83,295.05 217.00,295.00" stroke="#797a7f" stroke-width="2.4"/>
<path d="M105.70,307.50C106.75,308.00 109.62,309.50 112.00,310.50C114.38,311.50 117.33,312.58 120.00,313.50C122.67,314.42 125.33,315.28 128.00,316.00C130.67,316.72 133.33,317.37 136.00,317.80C138.67,318.23 141.33,318.53 144.00,318.60C146.67,318.67 149.33,318.50 152.00,318.20C154.67,317.90 157.33,317.30 160.00,316.80C162.67,316.30 164.88,315.67 168.00,315.20C171.12,314.73 175.70,314.07 178.70,314.00C181.70,313.93 183.28,314.30 186.00,314.80C188.72,315.30 191.83,316.37 195.00,317.00C198.17,317.63 201.33,318.27 205.00,318.60C208.67,318.93 215.00,318.93 217.00,319.00" stroke="#797a7f" stroke-width="2.4"/>
<path d="M150.00,319.60C151.67,319.40 157.00,318.87 160.00,318.40C163.00,317.93 164.88,317.27 168.00,316.80C171.12,316.33 175.70,315.60 178.70,315.60C181.70,315.60 183.28,316.17 186.00,316.80C188.72,317.43 191.83,318.67 195.00,319.40C198.17,320.13 201.33,320.77 205.00,321.20C208.67,321.63 215.00,321.87 217.00,322.00" stroke="#797a7f" stroke-width="2.4"/>
<path d="M41.00,321.00C41.83,319.83 44.33,316.08 46.00,314.00C47.67,311.92 49.33,310.07 51.00,308.50C52.67,306.93 54.38,305.63 56.00,304.60C57.62,303.57 58.98,302.93 60.70,302.30C62.42,301.67 64.75,301.08 66.30,300.80C67.85,300.52 69.38,300.63 70.00,300.60" stroke="#797a7f" stroke-width="3.2"/>
<path d="M41.00,317.00C41.67,318.00 43.67,320.75 45.00,323.00C46.33,325.25 47.63,327.50 49.00,330.50C50.37,333.50 52.50,339.25 53.20,341.00" stroke="#797a7f" stroke-width="3.2"/>
<path d="M157.50,341.00C158.00,339.67 159.42,335.50 160.50,333.00C161.58,330.50 162.75,328.08 164.00,326.00C165.25,323.92 166.67,322.00 168.00,320.50C169.33,319.00 170.75,317.88 172.00,317.00C173.25,316.12 174.38,315.60 175.50,315.20C176.62,314.80 178.17,314.70 178.70,314.60" stroke="#797a7f" stroke-width="3.2"/>
<path d="M137.00,289.60C138.17,289.77 141.50,289.95 144.00,290.60C146.50,291.25 149.33,292.30 152.00,293.50C154.67,294.70 157.33,296.33 160.00,297.80C162.67,299.27 165.67,301.13 168.00,302.30C170.33,303.47 172.22,304.25 174.00,304.80C175.78,305.35 177.03,305.68 178.70,305.60C180.37,305.52 181.78,305.32 184.00,304.30C186.22,303.28 189.33,301.05 192.00,299.50C194.67,297.95 197.33,296.25 200.00,295.00C202.67,293.75 205.17,292.70 208.00,292.00C210.83,291.30 215.50,291.00 217.00,290.80" stroke="#797a7f" stroke-width="2.4"/>
<path d="M96.60,310.90C97.33,311.15 99.50,312.05 101.00,312.40C102.50,312.75 104.07,313.00 105.60,313.00C107.13,313.00 108.70,312.75 110.20,312.40C111.70,312.05 113.87,311.15 114.60,310.90" stroke="#d9434a" stroke-width="2.0"/>
<path d="M170.00,341.00C170.58,340.17 172.42,337.23 173.50,336.00C174.58,334.77 175.63,334.10 176.50,333.60C177.37,333.10 177.95,333.00 178.70,333.00C179.45,333.00 180.12,333.10 181.00,333.60C181.88,334.10 182.92,334.77 184.00,336.00C185.08,337.23 186.92,340.17 187.50,341.00" stroke="#d9434a" stroke-width="1.9"/>
<path d="M175.50,199.80C176.00,200.03 177.50,201.20 178.50,201.20C179.50,201.20 181.00,200.03 181.50,199.80" stroke="#d8692e" stroke-width="1.8"/>
<path d="M67.50,341.00C68.25,339.83 70.58,335.93 72.00,334.00C73.42,332.07 74.67,330.67 76.00,329.40C77.33,328.13 78.33,327.60 80.00,326.40C81.67,325.20 83.92,323.40 86.00,322.20C88.08,321.00 90.33,319.87 92.50,319.20C94.67,318.53 96.82,318.38 99.00,318.20C101.18,318.02 103.43,318.10 105.60,318.10C107.77,318.10 109.68,318.02 112.00,318.20C114.32,318.38 117.17,318.67 119.50,319.20C121.83,319.73 123.92,320.53 126.00,321.40C128.08,322.27 130.00,323.33 132.00,324.40C134.00,325.47 136.00,326.60 138.00,327.80C140.00,329.00 142.00,330.15 144.00,331.60C146.00,333.05 148.33,334.93 150.00,336.50C151.67,338.07 153.33,340.25 154.00,341.00" stroke="#d9434a" stroke-width="2.4"/>
<path d="M42.00,289.80C43.00,289.33 45.83,287.83 48.00,287.00C50.17,286.17 52.27,285.40 55.00,284.80C57.73,284.20 61.57,283.45 64.40,283.40C67.23,283.35 69.57,283.82 72.00,284.50C74.43,285.18 76.70,286.33 79.00,287.50C81.30,288.67 83.63,289.58 85.80,291.50C87.97,293.42 90.20,296.47 92.00,299.00C93.80,301.53 95.10,304.45 96.60,306.70C98.10,308.95 99.50,310.95 101.00,312.50C102.50,314.05 104.10,315.82 105.60,316.00C107.10,316.18 108.38,314.98 110.00,313.60C111.62,312.22 113.47,309.88 115.30,307.70C117.13,305.52 118.92,302.92 121.00,300.50C123.08,298.08 125.97,294.85 127.80,293.20C129.63,291.55 130.47,291.20 132.00,290.60C133.53,290.00 135.00,289.60 137.00,289.60C139.00,289.60 142.83,290.43 144.00,290.60" stroke="url(#g9)" stroke-width="2.4"/>
<path d="M105.60,269.90C106.45,270.12 109.05,270.43 110.70,271.20C112.35,271.97 113.87,273.03 115.50,274.50C117.13,275.97 119.08,278.25 120.50,280.00C121.92,281.75 122.42,282.67 124.00,285.00C125.58,287.33 127.83,290.83 130.00,294.00C132.17,297.17 134.67,300.83 137.00,304.00C139.33,307.17 141.83,310.42 144.00,313.00C146.17,315.58 147.83,317.50 150.00,319.50C152.17,321.50 154.67,323.42 157.00,325.00C159.33,326.58 161.67,327.87 164.00,329.00C166.33,330.13 168.55,331.13 171.00,331.80C173.45,332.47 177.42,332.80 178.70,333.00" stroke="#d9434a" stroke-width="2.4"/>
<path d="M62.30,341.00C63.25,338.92 66.05,332.67 68.00,328.50C69.95,324.33 72.00,320.33 74.00,316.00C76.00,311.67 78.03,306.63 80.00,302.50C81.97,298.37 83.97,294.70 85.80,291.20C87.63,287.70 89.30,284.20 91.00,281.50C92.70,278.80 94.42,276.68 96.00,275.00C97.58,273.32 98.90,272.25 100.50,271.40C102.10,270.55 103.90,269.93 105.60,269.90C107.30,269.87 109.85,270.98 110.70,271.20" stroke="#d9434a" stroke-width="2.6"/>
<path d="M105.60,281.50C105.22,282.58 104.03,285.75 103.30,288.00C102.57,290.25 101.87,292.40 101.20,295.00C100.53,297.60 99.97,300.77 99.30,303.60C98.63,306.43 97.92,309.10 97.20,312.00C96.48,314.90 95.70,318.00 95.00,321.00C94.30,324.00 93.63,327.00 93.00,330.00C92.37,333.00 91.57,337.00 91.20,339.00C90.83,341.00 90.87,341.50 90.80,342.00" stroke="#d6812f" stroke-width="2.2"/>
<path d="M105.60,281.50C106.00,282.58 107.25,285.75 108.00,288.00C108.75,290.25 109.40,292.40 110.10,295.00C110.80,297.60 111.50,300.77 112.20,303.60C112.90,306.43 113.58,309.10 114.30,312.00C115.02,314.90 115.78,318.00 116.50,321.00C117.22,324.00 117.93,327.00 118.60,330.00C119.27,333.00 120.10,337.00 120.50,339.00C120.90,341.00 120.92,341.50 121.00,342.00" stroke="#d6812f" stroke-width="2.2"/>
<path d="M102.30,293.00C102.57,292.00 103.35,288.80 103.90,287.00C104.45,285.20 105.03,282.20 105.60,282.20C106.17,282.20 106.75,285.20 107.30,287.00C107.85,288.80 108.63,292.00 108.90,293.00" stroke="#e07a28" stroke-width="3.6"/>
<path d="M84.00,308.00C85.33,308.42 89.33,309.78 92.00,310.50C94.67,311.22 97.73,311.85 100.00,312.30C102.27,312.75 103.60,312.83 105.60,313.20C107.60,313.57 109.60,313.98 112.00,314.50C114.40,315.02 117.33,315.67 120.00,316.30C122.67,316.93 126.67,317.97 128.00,318.30" stroke="#9a7272" stroke-width="1.3"/>
<path d="M99.30,342.00C99.52,341.50 100.05,340.17 100.60,339.00C101.15,337.83 101.77,336.05 102.60,335.00C103.43,333.95 104.60,332.70 105.60,332.70C106.60,332.70 107.77,333.95 108.60,335.00C109.43,336.05 110.05,337.83 110.60,339.00C111.15,340.17 111.68,341.50 111.90,342.00" stroke="#4767bd" stroke-width="3.0"/>
<path d="M83.30,198.00C83.43,198.38 83.23,197.55 84.10,200.30C84.97,203.05 86.88,208.80 88.50,214.50C90.12,220.20 91.97,228.33 93.80,234.50C95.63,240.67 97.88,246.75 99.50,251.50C101.12,256.25 102.52,260.15 103.50,263.00C104.48,265.85 105.08,267.67 105.40,268.60" stroke="#4767bd" stroke-width="2.2"/>
<path d="M106.60,268.60C107.00,267.50 108.10,264.77 109.00,262.00C109.90,259.23 111.07,255.00 112.00,252.00C112.93,249.00 113.90,246.00 114.60,244.00C115.30,242.00 115.43,242.00 116.20,240.00C116.97,238.00 118.20,234.50 119.20,232.00C120.20,229.50 121.30,227.00 122.20,225.00C123.10,223.00 123.60,222.00 124.60,220.00C125.60,218.00 127.02,215.25 128.20,213.00C129.38,210.75 130.53,208.63 131.70,206.50C132.87,204.37 134.37,201.78 135.20,200.20C136.03,198.62 136.45,197.53 136.70,197.00" stroke="#e07a28" stroke-width="1.3"/>
<path d="M105.60,268.60C106.00,267.50 107.10,264.77 108.00,262.00C108.90,259.23 110.08,255.00 111.00,252.00C111.92,249.00 112.83,246.00 113.50,244.00C114.17,242.00 114.25,242.00 115.00,240.00C115.75,238.00 117.00,234.50 118.00,232.00C119.00,229.50 120.10,227.00 121.00,225.00C121.90,223.00 122.40,222.00 123.40,220.00C124.40,218.00 125.82,215.25 127.00,213.00C128.18,210.75 129.33,208.63 130.50,206.50C131.67,204.37 133.17,201.78 134.00,200.20C134.83,198.62 135.25,197.53 135.50,197.00" stroke="#4767bd" stroke-width="1.5"/>
<path d="M90.30,198.00C90.45,198.38 90.42,199.05 91.20,200.30C91.98,201.55 93.53,204.02 95.00,205.50C96.47,206.98 98.22,208.32 100.00,209.20C101.78,210.08 103.80,210.80 105.70,210.80C107.60,210.80 109.62,210.08 111.40,209.20C113.18,208.32 114.98,206.98 116.40,205.50C117.82,204.02 119.17,201.55 119.90,200.30C120.63,199.05 120.65,198.38 120.80,198.00" stroke="#e07a28" stroke-width="2.4"/>
</g>
<line x1="43.00" y1="269.10" x2="214.80" y2="269.10" stroke="#1e1e1e" stroke-width="1.6" stroke-dasharray="6 6.57"/>
<line x1="105.70" y1="338.00" x2="105.70" y2="200.20" stroke="#1e1e1e" stroke-width="1.6" stroke-dasharray="7.4 5.65"/>
<line x1="178.70" y1="338.00" x2="178.70" y2="200.20" stroke="#1e1e1e" stroke-width="1.6" stroke-dasharray="7.4 5.65"/>
<line x1="43.00" y1="200.20" x2="45.60" y2="200.20" stroke="#222" stroke-width="1.2"/>
<line x1="214.80" y1="200.20" x2="212.20" y2="200.20" stroke="#222" stroke-width="1.2"/>
<line x1="43.00" y1="217.42" x2="44.80" y2="217.42" stroke="#222" stroke-width="1.2"/>
<line x1="214.80" y1="217.42" x2="213.00" y2="217.42" stroke="#222" stroke-width="1.2"/>
<line x1="43.00" y1="234.65" x2="45.60" y2="234.65" stroke="#222" stroke-width="1.2"/>
<line x1="214.80" y1="234.65" x2="212.20" y2="234.65" stroke="#222" stroke-width="1.2"/>
<line x1="43.00" y1="251.88" x2="44.80" y2="251.88" stroke="#222" stroke-width="1.2"/>
<line x1="214.80" y1="251.88" x2="213.00" y2="251.88" stroke="#222" stroke-width="1.2"/>
<line x1="43.00" y1="269.10" x2="45.60" y2="269.10" stroke="#222" stroke-width="1.2"/>
<line x1="214.80" y1="269.10" x2="212.20" y2="269.10" stroke="#222" stroke-width="1.2"/>
<line x1="43.00" y1="286.32" x2="44.80" y2="286.32" stroke="#222" stroke-width="1.2"/>
<line x1="214.80" y1="286.32" x2="213.00" y2="286.32" stroke="#222" stroke-width="1.2"/>
<line x1="43.00" y1="303.55" x2="45.60" y2="303.55" stroke="#222" stroke-width="1.2"/>
<line x1="214.80" y1="303.55" x2="212.20" y2="303.55" stroke="#222" stroke-width="1.2"/>
<line x1="43.00" y1="320.78" x2="44.80" y2="320.78" stroke="#222" stroke-width="1.2"/>
<line x1="214.80" y1="320.78" x2="213.00" y2="320.78" stroke="#222" stroke-width="1.2"/>
<line x1="43.00" y1="338.00" x2="45.60" y2="338.00" stroke="#222" stroke-width="1.2"/>
<line x1="214.80" y1="338.00" x2="212.20" y2="338.00" stroke="#222" stroke-width="1.2"/>
<rect x="43.00" y="200.20" width="171.80" height="137.80" fill="none" stroke="#1a1a1a" stroke-width="1.7"/>
<text x="39.40" y="204.75" text-anchor="end" class="tl">1.2</text>
<text x="39.40" y="239.20" text-anchor="end" class="tl">0.6</text>
<text x="39.40" y="273.65" text-anchor="end" class="tl">0.0</text>
<text x="39.40" y="308.10" text-anchor="end" class="tl">-0.6</text>
<text x="39.40" y="342.55" text-anchor="end" class="tl">-1.2</text>
<text x="44.00" y="352.10" text-anchor="middle" class="tl">X</text>
<text x="104.50" y="352.10" text-anchor="middle" class="tl">Γ</text>
<text x="177.40" y="352.10" text-anchor="middle" class="tl">M</text>
<text x="211.60" y="352.10" text-anchor="middle" class="tl">X</text>
<text transform="translate(11.00,267.65) rotate(-90)" text-anchor="middle" class="yl" textLength="76.5" lengthAdjust="spacingAndGlyphs">Energy (eV)</text>
<text x="86.80" y="193.30" class="tt" textLength="86.00" lengthAdjust="spacingAndGlyphs">w/o SOC AFM</text>
<text x="0.20" y="192.80" class="tt" textLength="18.70" lengthAdjust="spacingAndGlyphs">(d)</text>
<clipPath id="cpe"><rect x="267.00" y="198.30" width="169.20" height="141.00"/></clipPath>
<defs><linearGradient id="g10" gradientUnits="userSpaceOnUse" x1="339.10" y1="0" x2="350.87" y2="0"><stop offset="0.0000" stop-color="#4767bd"/><stop offset="1.0000" stop-color="#6f7fa8"/></linearGradient><linearGradient id="g11" gradientUnits="userSpaceOnUse" x1="279.85" y1="0" x2="310.01" y2="0"><stop offset="0.0000" stop-color="#797a7f"/><stop offset="0.3279" stop-color="#4767bd"/><stop offset="0.9016" stop-color="#4767bd"/><stop offset="1.0000" stop-color="#d9434a"/></linearGradient><linearGradient id="g12" gradientUnits="userSpaceOnUse" x1="308.04" y1="0" x2="311.00" y2="0"><stop offset="0.0000" stop-color="#d9434a"/><stop offset="1.0000" stop-color="#4767bd"/></linearGradient><linearGradient id="g13" gradientUnits="userSpaceOnUse" x1="343.03" y1="0" x2="351.85" y2="0"><stop offset="0.0000" stop-color="#4767bd"/><stop offset="0.4444" stop-color="#4767bd"/><stop offset="1.0000" stop-color="#d9434a"/></linearGradient><linearGradient id="g14" gradientUnits="userSpaceOnUse" x1="346.95" y1="0" x2="370.49" y2="0"><stop offset="0.0000" stop-color="#d9434a"/><stop offset="0.1667" stop-color="#4767bd"/><stop offset="0.6667" stop-color="#4767bd"/><stop offset="1.0000" stop-color="#797a7f"/></linearGradient></defs>
<g clip-path="url(#cpe)" fill="none" stroke-linecap="round" stroke-linejoin="round">
<path d="M265.02,293.26C266.51,293.82 270.68,295.45 273.92,296.63C277.17,297.81 281.21,299.38 284.50,300.32C287.80,301.25 290.63,301.63 293.70,302.26C296.76,302.89 299.27,303.35 302.89,304.10C306.52,304.85 312.04,306.22 315.45,306.76C318.86,307.31 321.11,307.31 323.36,307.38C325.62,307.44 327.36,307.31 329.00,307.17C330.64,307.03 332.51,306.66 333.22,306.56" stroke="#797a7f" stroke-width="4.4"/>
<path d="M329.00,307.38C329.70,307.07 331.70,306.27 333.22,305.53C334.74,304.80 336.32,304.08 338.12,302.98C339.92,301.87 342.04,300.16 344.01,298.88C345.97,297.60 347.93,296.21 349.89,295.30C351.85,294.40 353.65,293.80 355.78,293.46C357.90,293.12 360.35,293.08 362.64,293.26C364.93,293.43 367.22,293.80 369.51,294.48C371.80,295.17 373.92,296.15 376.37,297.35C378.83,298.54 381.60,300.28 384.22,301.65C386.84,303.01 389.34,304.51 392.07,305.53C394.80,306.56 397.98,307.68 400.60,307.78C403.22,307.89 405.28,307.24 407.80,306.15C410.31,305.06 413.06,302.70 415.69,301.24C418.32,299.77 420.95,298.29 423.58,297.35C426.21,296.41 429.00,295.95 431.47,295.61C433.93,295.27 437.22,295.35 438.37,295.30" stroke="#797a7f" stroke-width="2.4"/>
<path d="M329.00,308.09C330.03,308.60 332.84,310.14 335.18,311.16C337.52,312.18 340.41,313.29 343.03,314.23C345.64,315.17 348.26,316.06 350.87,316.79C353.49,317.52 356.10,318.19 358.72,318.63C361.33,319.07 363.95,319.38 366.57,319.45C369.18,319.52 371.80,319.35 374.41,319.04C377.03,318.73 379.64,318.12 382.26,317.61C384.87,317.10 387.05,316.45 390.11,315.97C393.16,315.49 397.65,314.81 400.60,314.74C403.55,314.67 405.12,315.05 407.80,315.56C410.48,316.07 413.55,317.16 416.67,317.81C419.80,318.46 422.92,319.11 426.54,319.45C430.15,319.79 436.40,319.79 438.37,319.86" stroke="#797a7f" stroke-width="2.4"/>
<path d="M372.45,320.47C374.09,320.27 379.32,319.72 382.26,319.24C385.20,318.77 387.05,318.09 390.11,317.61C393.16,317.13 397.65,316.38 400.60,316.38C403.55,316.38 405.12,316.96 407.80,317.61C410.48,318.26 413.55,319.52 416.67,320.27C419.80,321.02 422.92,321.67 426.54,322.11C430.15,322.55 436.40,322.79 438.37,322.93" stroke="#797a7f" stroke-width="2.4"/>
<path d="M265.02,321.91C265.85,320.71 268.32,316.87 269.97,314.74C271.61,312.61 273.26,310.72 274.91,309.11C276.56,307.51 278.26,306.18 279.85,305.12C281.45,304.07 282.80,303.42 284.50,302.77C286.20,302.12 288.51,301.53 290.04,301.24C291.57,300.95 293.09,301.07 293.70,301.03" stroke="#797a7f" stroke-width="3.2"/>
<path d="M265.02,317.81C265.68,318.84 267.66,321.65 268.98,323.95C270.30,326.25 271.58,328.56 272.93,331.63C274.28,334.70 276.39,340.58 277.09,342.37" stroke="#797a7f" stroke-width="3.2"/>
<path d="M379.81,342.37C380.30,341.01 381.69,336.74 382.75,334.18C383.81,331.63 384.96,329.15 386.18,327.02C387.41,324.89 388.80,322.93 390.11,321.39C391.41,319.86 392.80,318.72 394.03,317.81C395.25,316.91 396.37,316.38 397.46,315.97C398.56,315.56 400.08,315.46 400.60,315.36" stroke="#797a7f" stroke-width="3.2"/>
<path d="M359.70,289.78C360.84,289.95 364.11,290.13 366.57,290.80C369.02,291.46 371.80,292.54 374.41,293.77C377.03,294.99 379.64,296.67 382.26,298.17C384.87,299.67 387.82,301.58 390.11,302.77C392.39,303.96 394.24,304.77 395.99,305.33C397.74,305.89 398.96,306.23 400.60,306.15C402.24,306.06 403.64,305.86 405.83,304.82C408.01,303.78 411.09,301.49 413.72,299.91C416.35,298.32 418.98,296.58 421.60,295.30C424.23,294.02 426.70,292.95 429.49,292.23C432.29,291.52 436.89,291.21 438.37,291.00" stroke="#797a7f" stroke-width="2.4"/>
<path d="M320.00,311.57C320.73,311.83 322.87,312.75 324.35,313.11C325.84,313.46 327.39,313.72 328.90,313.72C330.41,313.72 331.94,313.46 333.41,313.11C334.89,312.75 337.01,311.83 337.73,311.57" stroke="#d9434a" stroke-width="2.0"/>
<path d="M392.07,342.37C392.64,341.52 394.44,338.52 395.50,337.25C396.56,335.99 397.59,335.31 398.44,334.80C399.29,334.29 399.86,334.18 400.60,334.18C401.34,334.18 402.00,334.29 402.87,334.80C403.74,335.31 404.76,335.99 405.83,337.25C406.89,338.52 408.70,341.52 409.28,342.37" stroke="#d9434a" stroke-width="1.9"/>
<path d="M397.46,197.89C397.95,198.13 399.42,199.32 400.40,199.32C401.39,199.32 402.87,198.13 403.36,197.89" stroke="#d8692e" stroke-width="1.8"/>
<path d="M305.76,195.03C305.84,195.59 305.30,194.99 306.26,198.40C307.21,201.81 309.80,209.91 311.50,215.49C313.20,221.07 314.88,226.75 316.44,231.86C318.01,236.98 319.66,242.35 320.89,246.19C322.13,250.02 323.03,252.58 323.86,254.88C324.68,257.19 325.23,258.65 325.84,260.00C326.45,261.35 327.01,262.30 327.52,262.97C328.03,263.63 328.67,263.82 328.90,263.99" stroke="#4767bd" stroke-width="2.2"/>
<path d="M328.90,263.99C329.13,263.82 329.75,263.63 330.28,262.97C330.80,262.30 331.39,261.43 332.04,260.00C332.69,258.57 333.35,256.67 334.20,254.37C335.05,252.07 336.16,248.92 337.14,246.19C338.12,243.46 339.23,240.61 340.08,238.00C340.93,235.39 341.26,233.43 342.24,230.53C343.22,227.63 344.64,223.66 345.97,220.61C347.29,217.55 348.71,214.86 350.19,212.22C351.66,209.57 353.28,206.95 354.80,204.75C356.32,202.55 358.33,200.47 359.31,199.02C360.29,197.57 360.45,196.54 360.68,196.05" stroke="url(#g10)" stroke-width="2.2"/>
<path d="M326.73,262.56C327.09,262.88 328.18,264.50 328.90,264.50C329.62,264.50 330.70,262.88 331.06,262.56" stroke="#d9434a" stroke-width="2.2"/>
<path d="M266.01,289.98C267.00,289.50 269.80,287.97 271.94,287.12C274.09,286.26 276.16,285.48 278.87,284.86C281.57,284.25 285.36,283.48 288.16,283.43C290.96,283.38 293.27,283.89 295.68,284.56C298.08,285.22 300.87,286.55 302.60,287.42C304.33,288.29 305.14,289.25 306.06,289.78C306.98,290.30 307.46,290.77 308.14,290.59C308.81,290.42 309.31,289.93 310.11,288.75C310.92,287.58 311.84,285.43 312.98,283.53C314.12,281.64 315.62,279.02 316.94,277.40C318.25,275.77 319.89,274.53 320.89,273.81C321.90,273.10 322.13,273.01 322.97,273.10C323.81,273.18 324.95,273.63 325.93,274.33C326.92,275.02 328.41,276.80 328.90,277.29" stroke="url(#g11)" stroke-width="3.0"/>
<path d="M286.08,342.37C287.02,340.24 289.79,333.84 291.72,329.58C293.65,325.32 295.68,321.14 297.65,316.79C299.63,312.44 302.02,306.73 303.59,303.49C305.15,300.25 306.03,298.71 307.05,297.35C308.07,295.98 308.81,295.30 309.72,295.30C310.62,295.30 311.45,296.15 312.49,297.35C313.52,298.54 314.69,300.67 315.95,302.46C317.20,304.25 318.60,306.25 320.00,308.09C321.40,309.93 322.87,312.07 324.35,313.51C325.84,314.96 328.14,316.24 328.90,316.79" stroke="url(#g12)" stroke-width="2.4"/>
<path d="M328.90,316.79C329.62,316.28 331.99,315.39 333.22,313.72C334.44,312.05 334.79,308.89 336.26,306.76C337.73,304.63 340.26,302.58 342.04,300.93C343.83,299.27 345.64,297.67 346.95,296.84C348.26,296.00 348.88,295.81 349.89,295.92C350.91,296.02 351.40,295.85 353.03,297.45C354.66,299.05 356.92,302.05 359.70,305.53C362.48,309.01 366.76,315.00 369.70,318.32C372.65,321.65 374.92,323.59 377.35,325.49C379.79,327.38 382.13,328.62 384.32,329.68C386.51,330.74 388.55,331.25 390.50,331.83C392.44,332.41 394.24,332.80 395.99,333.16C397.74,333.52 400.16,333.84 400.99,333.98" stroke="url(#g13)" stroke-width="2.4"/>
<path d="M328.90,277.29C329.39,276.80 330.86,275.02 331.84,274.33C332.83,273.63 333.82,273.10 334.79,273.10C335.75,273.10 336.50,273.42 337.63,274.33C338.76,275.23 340.33,276.99 341.55,278.52C342.78,280.06 343.78,281.85 344.99,283.53C346.20,285.22 347.82,287.44 348.81,288.65C349.81,289.86 349.97,290.54 350.97,290.80C351.97,291.06 353.34,290.36 354.80,290.19C356.25,290.01 357.74,289.67 359.70,289.78C361.66,289.88 364.11,290.13 366.57,290.80C369.02,291.46 372.45,292.93 374.41,293.77C376.37,294.60 377.68,295.47 378.34,295.81" stroke="url(#g14)" stroke-width="2.8"/>
<path d="M327.32,275.55C327.58,275.89 328.38,277.60 328.90,277.60C329.43,277.60 330.21,275.89 330.47,275.55" stroke="#4767bd" stroke-width="1.8"/>
<path d="M291.23,342.37C291.97,341.18 294.28,337.05 295.68,335.21C297.08,333.37 298.31,332.43 299.63,331.32C300.95,330.21 301.94,329.75 303.59,328.56C305.23,327.36 307.71,325.23 309.52,324.16C311.33,323.08 312.98,322.57 314.46,322.11C315.95,321.65 317.02,321.43 318.42,321.39C319.82,321.36 321.62,321.62 322.87,321.91C324.12,322.20 324.93,322.81 325.93,323.13C326.94,323.46 327.92,323.85 328.90,323.85C329.89,323.85 330.85,323.46 331.84,323.13C332.84,322.81 333.68,322.20 334.88,321.91C336.09,321.62 337.58,321.36 339.10,321.39C340.62,321.43 342.37,321.65 344.01,322.11C345.64,322.57 347.11,323.25 348.91,324.16C350.71,325.06 352.83,326.44 354.80,327.53C356.76,328.62 358.72,329.56 360.68,330.70C362.64,331.85 364.60,333.04 366.57,334.39C368.53,335.74 370.82,337.46 372.45,338.79C374.09,340.12 375.72,341.77 376.37,342.37" stroke="#d9434a" stroke-width="2.5"/>
<path d="M314.96,196.05C315.11,196.44 315.11,197.12 315.85,198.40C316.59,199.68 318.07,202.24 319.41,203.72C320.74,205.21 322.28,206.43 323.86,207.30C325.44,208.17 327.23,208.94 328.90,208.94C330.58,208.94 332.27,208.17 333.90,207.30C335.54,206.43 337.14,205.21 338.71,203.72C340.28,202.24 342.40,199.68 343.32,198.40C344.24,197.12 344.06,196.44 344.20,196.05" stroke="#797a7f" stroke-width="3.8"/>
<path d="M314.96,196.05C315.11,196.44 315.11,197.12 315.85,198.40C316.59,199.68 318.07,202.24 319.41,203.72C320.74,205.21 322.28,206.43 323.86,207.30C325.44,208.17 327.23,208.94 328.90,208.94C330.58,208.94 332.27,208.17 333.90,207.30C335.54,206.43 337.14,205.21 338.71,203.72C340.28,202.24 342.40,199.68 343.32,198.40C344.24,197.12 344.06,196.44 344.20,196.05" stroke="#c98530" stroke-width="2.0"/>
<path d="M313.87,343.39C314.37,341.35 315.68,335.72 316.84,331.11C317.99,326.51 319.47,320.88 320.79,315.77C322.11,310.65 323.73,304.34 324.75,300.42C325.77,296.50 326.23,294.88 326.92,292.23C327.62,289.59 328.57,285.84 328.90,284.56" stroke="#5575bb" stroke-width="2.0"/>
<path d="M328.90,284.56C329.23,285.84 330.18,289.59 330.86,292.23C331.55,294.88 332.01,296.50 333.02,300.42C334.03,304.34 335.64,310.65 336.94,315.77C338.25,320.88 339.72,326.51 340.87,331.11C342.01,335.72 343.32,341.35 343.81,343.39" stroke="#5575bb" stroke-width="2.0"/>
<path d="M327.81,289.16C327.99,288.48 328.54,285.07 328.90,285.07C329.26,285.07 329.80,288.48 329.98,289.16" stroke="#e07a28" stroke-width="3.0"/>
<path d="M325.34,343.39C325.59,342.80 326.23,340.78 326.82,339.81C327.42,338.84 328.21,337.56 328.90,337.56C329.59,337.56 330.37,338.84 330.96,339.81C331.55,340.78 332.19,342.80 332.43,343.39" stroke="#4767bd" stroke-width="3.0"/>
</g>
<line x1="267.00" y1="268.80" x2="436.20" y2="268.80" stroke="#1e1e1e" stroke-width="1.6" stroke-dasharray="6 6.57"/>
<line x1="329.00" y1="339.30" x2="329.00" y2="198.30" stroke="#1e1e1e" stroke-width="1.6" stroke-dasharray="7.4 5.65"/>
<line x1="400.60" y1="339.30" x2="400.60" y2="198.30" stroke="#1e1e1e" stroke-width="1.6" stroke-dasharray="7.4 5.65"/>
<line x1="267.00" y1="198.30" x2="269.60" y2="198.30" stroke="#222" stroke-width="1.2"/>
<line x1="436.20" y1="198.30" x2="433.60" y2="198.30" stroke="#222" stroke-width="1.2"/>
<line x1="267.00" y1="215.93" x2="268.80" y2="215.93" stroke="#222" stroke-width="1.2"/>
<line x1="436.20" y1="215.93" x2="434.40" y2="215.93" stroke="#222" stroke-width="1.2"/>
<line x1="267.00" y1="233.55" x2="269.60" y2="233.55" stroke="#222" stroke-width="1.2"/>
<line x1="436.20" y1="233.55" x2="433.60" y2="233.55" stroke="#222" stroke-width="1.2"/>
<line x1="267.00" y1="251.18" x2="268.80" y2="251.18" stroke="#222" stroke-width="1.2"/>
<line x1="436.20" y1="251.18" x2="434.40" y2="251.18" stroke="#222" stroke-width="1.2"/>
<line x1="267.00" y1="268.80" x2="269.60" y2="268.80" stroke="#222" stroke-width="1.2"/>
<line x1="436.20" y1="268.80" x2="433.60" y2="268.80" stroke="#222" stroke-width="1.2"/>
<line x1="267.00" y1="286.43" x2="268.80" y2="286.43" stroke="#222" stroke-width="1.2"/>
<line x1="436.20" y1="286.43" x2="434.40" y2="286.43" stroke="#222" stroke-width="1.2"/>
<line x1="267.00" y1="304.05" x2="269.60" y2="304.05" stroke="#222" stroke-width="1.2"/>
<line x1="436.20" y1="304.05" x2="433.60" y2="304.05" stroke="#222" stroke-width="1.2"/>
<line x1="267.00" y1="321.68" x2="268.80" y2="321.68" stroke="#222" stroke-width="1.2"/>
<line x1="436.20" y1="321.68" x2="434.40" y2="321.68" stroke="#222" stroke-width="1.2"/>
<line x1="267.00" y1="339.30" x2="269.60" y2="339.30" stroke="#222" stroke-width="1.2"/>
<line x1="436.20" y1="339.30" x2="433.60" y2="339.30" stroke="#222" stroke-width="1.2"/>
<rect x="267.00" y="198.30" width="169.20" height="141.00" fill="none" stroke="#1a1a1a" stroke-width="1.7"/>
<text x="263.40" y="202.85" text-anchor="end" class="tl">1.2</text>
<text x="263.40" y="238.10" text-anchor="end" class="tl">0.6</text>
<text x="263.40" y="273.35" text-anchor="end" class="tl">0.0</text>
<text x="263.40" y="308.60" text-anchor="end" class="tl">-0.6</text>
<text x="263.40" y="343.85" text-anchor="end" class="tl">-1.2</text>
<text x="268.80" y="353.40" text-anchor="middle" class="tl">X</text>
<text x="329.20" y="353.40" text-anchor="middle" class="tl">Γ</text>
<text x="401.40" y="353.40" text-anchor="middle" class="tl">M</text>
<text x="435.70" y="353.40" text-anchor="middle" class="tl">X</text>
<text transform="translate(236.10,264.35) rotate(-90)" text-anchor="middle" class="yl" textLength="76.5" lengthAdjust="spacingAndGlyphs">Energy (eV)</text>
<text x="303.20" y="192.70" class="tt" textLength="110.30" lengthAdjust="spacingAndGlyphs">out-of-plane AFM</text>
<text x="225.20" y="192.50" class="tt" textLength="17.40" lengthAdjust="spacingAndGlyphs">(e)</text>
<clipPath id="cpf"><rect x="490.40" y="198.40" width="168.60" height="140.90"/></clipPath>
<defs><linearGradient id="g15" gradientUnits="userSpaceOnUse" x1="561.98" y1="0" x2="573.60" y2="0"><stop offset="0.0000" stop-color="#4767bd"/><stop offset="1.0000" stop-color="#6f7fa8"/></linearGradient><linearGradient id="g16" gradientUnits="userSpaceOnUse" x1="503.17" y1="0" x2="533.14" y2="0"><stop offset="0.0000" stop-color="#797a7f"/><stop offset="0.3279" stop-color="#4767bd"/><stop offset="0.9016" stop-color="#4767bd"/><stop offset="1.0000" stop-color="#d9434a"/></linearGradient><linearGradient id="g17" gradientUnits="userSpaceOnUse" x1="531.17" y1="0" x2="534.12" y2="0"><stop offset="0.0000" stop-color="#d9434a"/><stop offset="1.0000" stop-color="#4767bd"/></linearGradient><linearGradient id="g18" gradientUnits="userSpaceOnUse" x1="565.85" y1="0" x2="574.57" y2="0"><stop offset="0.0000" stop-color="#4767bd"/><stop offset="0.4444" stop-color="#4767bd"/><stop offset="1.0000" stop-color="#d9434a"/></linearGradient><linearGradient id="g19" gradientUnits="userSpaceOnUse" x1="569.72" y1="0" x2="592.97" y2="0"><stop offset="0.0000" stop-color="#d9434a"/><stop offset="0.1667" stop-color="#4767bd"/><stop offset="0.6667" stop-color="#4767bd"/><stop offset="1.0000" stop-color="#797a7f"/></linearGradient></defs>
<g clip-path="url(#cpf)" fill="none" stroke-linecap="round" stroke-linejoin="round">
<path d="M488.44,293.29C489.91,293.85 494.05,295.49 497.28,296.66C500.50,297.84 504.51,299.41 507.79,300.34C511.06,301.28 513.88,301.66 516.93,302.29C519.97,302.92 522.46,303.38 526.06,304.13C529.67,304.88 535.15,306.24 538.54,306.78C541.93,307.33 544.16,307.33 546.40,307.40C548.64,307.47 550.37,307.33 552.00,307.19C553.63,307.06 555.47,306.68 556.16,306.58" stroke="#797a7f" stroke-width="4.4"/>
<path d="M552.00,307.40C552.69,307.09 554.66,306.29 556.16,305.56C557.67,304.82 559.23,304.11 561.01,303.00C562.78,301.89 564.88,300.19 566.82,298.91C568.75,297.63 570.69,296.24 572.63,295.33C574.57,294.43 576.34,293.83 578.44,293.49C580.54,293.15 582.96,293.12 585.22,293.29C587.48,293.46 589.74,293.83 592.00,294.51C594.26,295.20 596.36,296.18 598.78,297.38C601.20,298.57 603.94,300.31 606.53,301.67C609.11,303.04 611.58,304.54 614.27,305.56C616.97,306.58 620.07,307.70 622.70,307.81C625.33,307.91 627.48,307.26 630.04,306.17C632.60,305.08 635.40,302.73 638.08,301.26C640.77,299.80 643.45,298.31 646.13,297.38C648.81,296.44 651.66,295.98 654.17,295.64C656.69,295.30 660.04,295.38 661.21,295.33" stroke="#797a7f" stroke-width="2.4"/>
<path d="M552.00,308.11C553.02,308.63 555.79,310.16 558.10,311.18C560.41,312.20 563.27,313.31 565.85,314.25C568.43,315.19 571.01,316.07 573.60,316.81C576.18,317.54 578.76,318.20 581.35,318.65C583.93,319.09 586.51,319.40 589.09,319.46C591.68,319.53 594.26,319.36 596.84,319.05C599.42,318.75 602.01,318.13 604.59,317.62C607.17,317.11 609.32,316.46 612.34,315.99C615.36,315.51 619.75,314.83 622.70,314.76C625.65,314.69 627.31,315.07 630.04,315.58C632.77,316.09 635.91,317.18 639.09,317.83C642.27,318.48 645.46,319.12 649.15,319.46C652.83,319.80 659.20,319.80 661.21,319.87" stroke="#797a7f" stroke-width="2.4"/>
<path d="M594.90,320.49C596.52,320.28 601.68,319.74 604.59,319.26C607.49,318.78 609.32,318.10 612.34,317.62C615.36,317.15 619.75,316.40 622.70,316.40C625.65,316.40 627.31,316.98 630.04,317.62C632.77,318.27 635.91,319.53 639.09,320.28C642.27,321.03 645.46,321.68 649.15,322.12C652.83,322.57 659.20,322.80 661.21,322.94" stroke="#797a7f" stroke-width="2.4"/>
<path d="M488.44,321.92C489.25,320.72 491.71,316.89 493.35,314.76C494.98,312.63 496.62,310.74 498.26,309.14C499.90,307.53 501.58,306.21 503.17,305.15C504.76,304.09 506.10,303.44 507.79,302.80C509.48,302.15 511.77,301.55 513.29,301.26C514.81,300.97 516.32,301.09 516.93,301.06" stroke="#797a7f" stroke-width="3.2"/>
<path d="M488.44,317.83C489.09,318.85 491.05,321.66 492.36,323.96C493.67,326.26 494.95,328.56 496.29,331.63C497.64,334.70 499.73,340.58 500.42,342.37" stroke="#797a7f" stroke-width="3.2"/>
<path d="M602.17,342.37C602.65,341.00 604.02,336.74 605.07,334.19C606.12,331.63 607.25,329.16 608.46,327.03C609.67,324.90 611.05,322.94 612.34,321.41C613.63,319.87 615.00,318.73 616.21,317.83C617.42,316.92 618.52,316.40 619.60,315.99C620.68,315.58 622.18,315.48 622.70,315.37" stroke="#797a7f" stroke-width="3.2"/>
<path d="M582.31,289.81C583.44,289.98 586.67,290.17 589.09,290.83C591.51,291.50 594.26,292.57 596.84,293.80C599.42,295.03 602.01,296.70 604.59,298.20C607.17,299.70 610.08,301.60 612.34,302.80C614.60,303.99 616.42,304.79 618.15,305.35C619.88,305.92 621.05,306.26 622.70,306.17C624.35,306.09 625.80,305.88 628.03,304.84C630.26,303.80 633.39,301.52 636.07,299.93C638.76,298.35 641.44,296.61 644.12,295.33C646.80,294.05 649.31,292.98 652.16,292.27C655.01,291.55 659.70,291.24 661.21,291.04" stroke="#797a7f" stroke-width="2.4"/>
<path d="M543.06,311.59C543.78,311.85 545.91,312.77 547.38,313.12C548.86,313.48 550.41,313.74 551.90,313.74C553.40,313.74 554.91,313.48 556.36,313.12C557.81,312.77 559.91,311.85 560.62,311.59" stroke="#d9434a" stroke-width="2.0"/>
<path d="M614.27,342.37C614.84,341.52 616.61,338.52 617.66,337.26C618.71,335.99 619.73,335.31 620.57,334.80C621.41,334.29 621.96,334.19 622.70,334.19C623.44,334.19 624.12,334.29 625.01,334.80C625.90,335.31 626.94,335.99 628.03,337.26C629.12,338.52 630.96,341.52 631.55,342.37" stroke="#d9434a" stroke-width="1.9"/>
<path d="M619.60,197.99C620.09,198.23 621.52,199.42 622.51,199.42C623.49,199.42 625.01,198.23 625.52,197.99" stroke="#d8692e" stroke-width="1.8"/>
<path d="M528.91,195.13C528.99,195.69 528.45,195.09 529.40,198.50C530.35,201.91 532.92,210.01 534.61,215.58C536.30,221.15 537.97,226.83 539.52,231.94C541.08,237.05 542.72,242.42 543.94,246.25C545.17,250.09 546.07,252.64 546.89,254.94C547.71,257.24 548.25,258.71 548.86,260.06C549.46,261.40 550.02,262.36 550.53,263.02C551.03,263.69 551.67,263.87 551.90,264.04" stroke="#4767bd" stroke-width="2.2"/>
<path d="M551.90,264.04C552.13,263.87 552.74,263.69 553.26,263.02C553.78,262.36 554.36,261.49 555.00,260.06C555.65,258.63 556.29,256.73 557.13,254.43C557.97,252.13 559.07,248.98 560.04,246.25C561.01,243.53 562.10,240.68 562.94,238.07C563.78,235.47 564.11,233.51 565.07,230.61C566.04,227.71 567.45,223.74 568.75,220.69C570.06,217.64 571.47,214.95 572.92,212.31C574.37,209.66 575.97,207.04 577.47,204.84C578.97,202.64 580.96,200.56 581.93,199.12C582.89,197.67 583.06,196.64 583.28,196.15" stroke="url(#g15)" stroke-width="2.2"/>
<path d="M549.74,262.61C550.10,262.94 551.19,264.56 551.90,264.56C552.62,264.56 553.68,262.94 554.03,262.61" stroke="#d9434a" stroke-width="2.2"/>
<path d="M489.42,290.02C490.40,289.54 493.18,288.00 495.31,287.15C497.44,286.30 499.50,285.52 502.19,284.90C504.87,284.29 508.64,283.52 511.42,283.47C514.21,283.42 516.50,283.93 518.89,284.60C521.28,285.26 524.05,286.59 525.77,287.46C527.49,288.33 528.29,289.28 529.21,289.81C530.12,290.34 530.60,290.80 531.27,290.63C531.94,290.46 532.43,289.96 533.24,288.79C534.04,287.61 534.95,285.47 536.08,283.57C537.21,281.68 538.70,279.06 540.01,277.44C541.32,275.82 542.95,274.58 543.94,273.86C544.94,273.14 545.17,273.06 546.01,273.14C546.84,273.23 547.97,273.67 548.95,274.37C549.94,275.07 551.41,276.84 551.90,277.34" stroke="url(#g16)" stroke-width="3.0"/>
<path d="M509.36,342.37C510.29,340.24 513.05,333.85 514.96,329.59C516.88,325.33 518.89,321.15 520.86,316.81C522.82,312.46 525.20,306.75 526.75,303.51C528.31,300.27 529.17,298.74 530.19,297.38C531.20,296.01 531.94,295.33 532.84,295.33C533.74,295.33 534.56,296.18 535.59,297.38C536.62,298.57 537.79,300.70 539.03,302.49C540.28,304.28 541.67,306.27 543.06,308.11C544.45,309.95 545.91,312.08 547.38,313.53C548.86,314.98 551.15,316.26 551.90,316.81" stroke="url(#g17)" stroke-width="2.4"/>
<path d="M551.90,316.81C552.61,316.29 554.95,315.41 556.16,313.74C557.38,312.07 557.71,308.91 559.17,306.78C560.62,304.65 563.12,302.61 564.88,300.96C566.64,299.30 568.43,297.70 569.72,296.87C571.01,296.03 571.63,295.84 572.63,295.95C573.63,296.05 574.11,295.88 575.73,297.48C577.34,299.08 579.57,302.08 582.31,305.56C585.06,309.03 589.29,315.02 592.19,318.34C595.10,321.66 597.34,323.60 599.75,325.50C602.15,327.39 604.46,328.63 606.62,329.69C608.79,330.75 610.80,331.26 612.72,331.84C614.65,332.42 616.42,332.81 618.15,333.17C619.88,333.52 622.28,333.85 623.10,333.98" stroke="url(#g18)" stroke-width="2.4"/>
<path d="M551.90,277.34C552.39,276.84 553.84,275.07 554.81,274.37C555.78,273.67 556.76,273.14 557.71,273.14C558.67,273.14 559.41,273.47 560.52,274.37C561.64,275.27 563.19,277.03 564.40,278.56C565.61,280.10 566.59,281.89 567.79,283.57C568.98,285.26 570.58,287.48 571.56,288.69C572.55,289.90 572.71,290.58 573.69,290.83C574.68,291.09 576.03,290.39 577.47,290.22C578.91,290.05 580.38,289.71 582.31,289.81C584.25,289.91 586.67,290.17 589.09,290.83C591.51,291.50 594.90,292.96 596.84,293.80C598.78,294.63 600.07,295.50 600.72,295.84" stroke="url(#g19)" stroke-width="2.8"/>
<path d="M550.33,275.60C550.59,275.94 551.38,277.64 551.90,277.64C552.42,277.64 553.19,275.94 553.45,275.60" stroke="#4767bd" stroke-width="1.8"/>
<path d="M514.47,342.37C515.21,341.17 517.50,337.05 518.89,335.21C520.28,333.37 521.51,332.43 522.82,331.32C524.13,330.22 525.11,329.76 526.75,328.56C528.39,327.37 530.84,325.24 532.65,324.17C534.45,323.09 536.08,322.58 537.56,322.12C539.03,321.66 540.10,321.44 541.49,321.41C542.88,321.37 544.66,321.63 545.91,321.92C547.15,322.21 547.96,322.82 548.95,323.14C549.95,323.47 550.93,323.86 551.90,323.86C552.88,323.86 553.82,323.47 554.81,323.14C555.79,322.82 556.62,322.21 557.81,321.92C559.01,321.63 560.47,321.37 561.98,321.41C563.48,321.44 565.20,321.66 566.82,322.12C568.43,322.58 569.88,323.26 571.66,324.17C573.44,325.07 575.53,326.45 577.47,327.54C579.41,328.63 581.35,329.57 583.28,330.71C585.22,331.85 587.16,333.05 589.09,334.39C591.03,335.74 593.29,337.46 594.90,338.79C596.52,340.12 598.13,341.77 598.78,342.37" stroke="#d9434a" stroke-width="2.5"/>
<path d="M536.08,196.15C536.23,196.54 536.15,197.22 536.97,198.50C537.79,199.78 539.51,202.23 541.00,203.82C542.49,205.40 544.09,206.99 545.91,208.01C547.73,209.03 549.92,209.95 551.90,209.95C553.89,209.95 556.10,209.03 557.81,208.01C559.52,206.99 560.80,205.40 562.17,203.82C563.54,202.23 565.24,199.78 566.04,198.50C566.85,197.22 566.85,196.54 567.01,196.15" stroke="#e07a28" stroke-width="2.5"/>
<path d="M563.43,235.01C563.99,233.64 565.61,229.72 566.82,226.83C568.03,223.93 569.40,220.43 570.69,217.62C571.98,214.81 573.36,212.25 574.57,209.95C575.78,207.65 576.75,205.86 577.96,203.82C579.17,201.77 580.94,199.13 581.83,197.68C582.72,196.24 583.04,195.55 583.28,195.13" stroke="#c48a50" stroke-width="1.2"/>
<path d="M551.80,283.06C551.30,284.77 549.69,289.86 548.76,293.29C547.82,296.71 546.96,300.46 546.20,303.61C545.45,306.77 544.81,309.36 544.24,312.20C543.67,315.05 543.22,317.88 542.76,320.69C542.31,323.50 541.90,326.25 541.49,329.08C541.08,331.90 540.59,335.28 540.31,337.66C540.03,340.05 539.90,342.44 539.82,343.39" stroke="#c8843a" stroke-width="2.0"/>
<path d="M551.80,283.06C552.27,284.77 553.71,289.86 554.61,293.29C555.52,296.71 556.49,300.46 557.23,303.61C557.97,306.77 558.51,309.36 559.07,312.20C559.63,315.05 560.14,317.88 560.62,320.69C561.10,323.50 561.56,326.25 561.98,329.08C562.40,331.90 562.86,335.28 563.14,337.66C563.41,340.05 563.54,342.44 563.62,343.39" stroke="#c8843a" stroke-width="2.0"/>
<path d="M550.53,293.29C550.64,292.44 550.98,289.78 551.21,288.18C551.44,286.57 551.67,283.68 551.90,283.68C552.13,283.68 552.35,286.57 552.58,288.18C552.81,289.78 553.15,292.44 553.26,293.29" stroke="#e07a28" stroke-width="3.2"/>
<path d="M543.45,343.39C543.78,342.71 544.60,340.66 545.42,339.30C546.24,337.94 547.28,336.20 548.36,335.21C549.45,334.22 550.73,333.37 551.90,333.37C553.07,333.37 554.32,334.22 555.39,335.21C556.46,336.20 557.49,337.94 558.30,339.30C559.10,340.66 559.91,342.71 560.23,343.39" stroke="#4767bd" stroke-width="3.0"/>
</g>
<line x1="490.40" y1="268.85" x2="659.00" y2="268.85" stroke="#1e1e1e" stroke-width="1.6" stroke-dasharray="6 6.57"/>
<line x1="552.00" y1="339.30" x2="552.00" y2="198.40" stroke="#1e1e1e" stroke-width="1.6" stroke-dasharray="7.4 5.65"/>
<line x1="622.70" y1="339.30" x2="622.70" y2="198.40" stroke="#1e1e1e" stroke-width="1.6" stroke-dasharray="7.4 5.65"/>
<line x1="490.40" y1="198.40" x2="493.00" y2="198.40" stroke="#222" stroke-width="1.2"/>
<line x1="659.00" y1="198.40" x2="656.40" y2="198.40" stroke="#222" stroke-width="1.2"/>
<line x1="490.40" y1="216.01" x2="492.20" y2="216.01" stroke="#222" stroke-width="1.2"/>
<line x1="659.00" y1="216.01" x2="657.20" y2="216.01" stroke="#222" stroke-width="1.2"/>
<line x1="490.40" y1="233.62" x2="493.00" y2="233.62" stroke="#222" stroke-width="1.2"/>
<line x1="659.00" y1="233.62" x2="656.40" y2="233.62" stroke="#222" stroke-width="1.2"/>
<line x1="490.40" y1="251.24" x2="492.20" y2="251.24" stroke="#222" stroke-width="1.2"/>
<line x1="659.00" y1="251.24" x2="657.20" y2="251.24" stroke="#222" stroke-width="1.2"/>
<line x1="490.40" y1="268.85" x2="493.00" y2="268.85" stroke="#222" stroke-width="1.2"/>
<line x1="659.00" y1="268.85" x2="656.40" y2="268.85" stroke="#222" stroke-width="1.2"/>
<line x1="490.40" y1="286.46" x2="492.20" y2="286.46" stroke="#222" stroke-width="1.2"/>
<line x1="659.00" y1="286.46" x2="657.20" y2="286.46" stroke="#222" stroke-width="1.2"/>
<line x1="490.40" y1="304.08" x2="493.00" y2="304.08" stroke="#222" stroke-width="1.2"/>
<line x1="659.00" y1="304.08" x2="656.40" y2="304.08" stroke="#222" stroke-width="1.2"/>
<line x1="490.40" y1="321.69" x2="492.20" y2="321.69" stroke="#222" stroke-width="1.2"/>
<line x1="659.00" y1="321.69" x2="657.20" y2="321.69" stroke="#222" stroke-width="1.2"/>
<line x1="490.40" y1="339.30" x2="493.00" y2="339.30" stroke="#222" stroke-width="1.2"/>
<line x1="659.00" y1="339.30" x2="656.40" y2="339.30" stroke="#222" stroke-width="1.2"/>
<rect x="490.40" y="198.40" width="168.60" height="140.90" fill="none" stroke="#1a1a1a" stroke-width="1.7"/>
<text x="486.80" y="202.95" text-anchor="end" class="tl">1.2</text>
<text x="486.80" y="238.18" text-anchor="end" class="tl">0.6</text>
<text x="486.80" y="273.40" text-anchor="end" class="tl">0.0</text>
<text x="486.80" y="308.63" text-anchor="end" class="tl">-0.6</text>
<text x="486.80" y="343.85" text-anchor="end" class="tl">-1.2</text>
<text x="492.50" y="353.40" text-anchor="middle" class="tl">X</text>
<text x="551.00" y="353.40" text-anchor="middle" class="tl">Γ</text>
<text x="624.20" y="353.40" text-anchor="middle" class="tl">M</text>
<text x="658.70" y="353.40" text-anchor="middle" class="tl">X</text>
<text transform="translate(460.60,262.60) rotate(-90)" text-anchor="middle" class="yl" textLength="76.5" lengthAdjust="spacingAndGlyphs">Energy (eV)</text>
<text x="538.20" y="193.30" class="tt" textLength="83.40" lengthAdjust="spacingAndGlyphs">in-plane AFM</text>
<text x="447.20" y="192.80" class="tt" textLength="15.70" lengthAdjust="spacingAndGlyphs">(f)</text>
<rect x="145.6" y="33.6" width="61.8" height="52.4" fill="#fff" stroke="#7a7a7a" stroke-width="1"/>
<clipPath id="cpia"><rect x="145.6" y="33.6" width="61.8" height="52.4"/></clipPath>
<g clip-path="url(#cpia)" fill="none" stroke="#3f5fc0" stroke-linecap="round" stroke-linejoin="round">
<path d="M160.80,30.00C161.25,31.17 162.30,34.17 163.50,37.00C164.70,39.83 166.48,43.63 168.00,47.00C169.52,50.37 171.37,53.78 172.60,57.20C173.83,60.62 174.93,65.78 175.40,67.50" stroke="#6a84d0" stroke-width="2.4"/>
<path d="M190.00,30.00C189.55,31.17 188.43,34.17 187.30,37.00C186.17,39.83 184.58,43.63 183.20,47.00C181.82,50.37 180.23,53.78 179.00,57.20C177.77,60.62 176.33,65.78 175.80,67.50" stroke="#6a84d0" stroke-width="2.4"/>
<path d="M144.00,81.80C145.00,80.67 148.17,77.07 150.00,75.00C151.83,72.93 153.33,71.07 155.00,69.40C156.67,67.73 158.33,66.32 160.00,65.00C161.67,63.68 163.33,62.42 165.00,61.50C166.67,60.58 168.25,59.97 170.00,59.50C171.75,59.03 173.67,58.70 175.50,58.70C177.33,58.70 179.25,59.03 181.00,59.50C182.75,59.97 184.33,60.58 186.00,61.50C187.67,62.42 189.33,63.63 191.00,65.00C192.67,66.37 194.50,68.28 196.00,69.70C197.50,71.12 197.83,71.12 200.00,73.50C202.17,75.88 207.50,82.25 209.00,84.00" stroke-width="1.3"/>
<path d="M144.00,88.00C145.00,87.00 148.17,83.87 150.00,82.00C151.83,80.13 153.33,78.37 155.00,76.80C156.67,75.23 158.33,73.77 160.00,72.60C161.67,71.43 163.33,70.57 165.00,69.80C166.67,69.03 168.25,68.43 170.00,68.00C171.75,67.57 173.67,67.20 175.50,67.20C177.33,67.20 179.25,67.57 181.00,68.00C182.75,68.43 184.33,69.03 186.00,69.80C187.67,70.57 189.33,71.48 191.00,72.60C192.67,73.72 194.50,75.43 196.00,76.50C197.50,77.57 197.83,77.08 200.00,79.00C202.17,80.92 207.50,86.50 209.00,88.00" stroke="#5473c8" stroke-width="2.8"/>
<path d="M170.00,90.00C170.38,88.50 171.40,83.37 172.30,81.00C173.20,78.63 174.37,75.80 175.40,75.80C176.43,75.80 177.60,78.63 178.50,81.00C179.40,83.37 180.42,88.50 180.80,90.00" stroke="#6a84d0" stroke-width="2.6"/>
</g>
<text x="144.0" y="36.7" text-anchor="end" class="il">0.4</text>
<text x="144.0" y="49.8" text-anchor="end" class="il">0.2</text>
<text x="144.0" y="62.9" text-anchor="end" class="il">0.0</text>
<text x="144.0" y="76.0" text-anchor="end" class="il">-0.2</text>
<text x="144.0" y="89.1" text-anchor="end" class="il">-0.4</text>
<rect x="145.6" y="266.0" width="63.4" height="5" fill="#fff" fill-opacity="0.6"/>
<rect x="146.1" y="212.2" width="62.4" height="53.8" fill="#fff" stroke="#6a6a6a" stroke-width="1"/>
<clipPath id="cpid"><rect x="146.1" y="212.2" width="62.4" height="53.8"/></clipPath>
<g clip-path="url(#cpid)" fill="none" stroke="#3a5cbf" stroke-width="1.4" stroke-linecap="round">
<path d="M163.50,210.00C164.25,212.00 166.58,218.33 168.00,222.00C169.42,225.67 170.68,229.10 172.00,232.00C173.32,234.90 175.25,238.17 175.90,239.40"/>
<path d="M188.70,210.00C187.92,212.00 185.48,218.33 184.00,222.00C182.52,225.67 181.15,229.10 179.80,232.00C178.45,234.90 176.55,238.17 175.90,239.40"/>
<path d="M144.00,264.00C145.33,262.33 149.33,256.92 152.00,254.00C154.67,251.08 157.33,248.67 160.00,246.50C162.67,244.33 165.35,242.18 168.00,241.00C170.65,239.82 173.23,239.40 175.90,239.40C178.57,239.40 181.32,239.82 184.00,241.00C186.68,242.18 189.33,244.33 192.00,246.50C194.67,248.67 197.00,251.08 200.00,254.00C203.00,256.92 208.33,262.33 210.00,264.00"/>
<path d="M169.50,268.00C169.92,266.83 171.25,262.83 172.00,261.00C172.75,259.17 173.35,257.97 174.00,257.00C174.65,256.03 175.27,255.20 175.90,255.20C176.53,255.20 177.15,256.03 177.80,257.00C178.45,257.97 179.05,259.17 179.80,261.00C180.55,262.83 181.88,266.83 182.30,268.00"/>
</g>
<text x="144.6" y="215.3" text-anchor="end" class="il">0.4</text>
<text x="144.6" y="228.8" text-anchor="end" class="il">0.2</text>
<text x="144.6" y="242.3" text-anchor="end" class="il">0.0</text>
<text x="144.6" y="255.7" text-anchor="end" class="il">-0.2</text>
<text x="144.6" y="269.1" text-anchor="end" class="il">-0.4</text>
<circle cx="171.7" cy="365.6" r="4.9" fill="#7b7b7b"/>
<text x="180.0" y="369.6" class="lg" textLength="38.8" lengthAdjust="spacingAndGlyphs">Others</text>
<circle cx="278.4" cy="365.3" r="4.6" fill="#e0692a"/>
<text x="285.4" y="369.3" class="lg" textLength="44.6" lengthAdjust="spacingAndGlyphs">As/Cd s</text>
<circle cx="382.1" cy="364" r="4.7" fill="#4a6cc4"/>
<text x="388.8" y="368.1" class="lg" textLength="46.2" lengthAdjust="spacingAndGlyphs">As/Cd p</text>
<text x="435.2" y="372.6" class="lg" style="font-size:7.8px">x</text>
<circle cx="483.5" cy="363.5" r="4.8" fill="#d94a4a"/>
<text x="490.1" y="367.5" class="lg" textLength="46.0" lengthAdjust="spacingAndGlyphs">As/Cd p</text>
<text x="535.8" y="372.0" class="lg" style="font-size:7.8px">y</text>
</svg>
</body></html>
